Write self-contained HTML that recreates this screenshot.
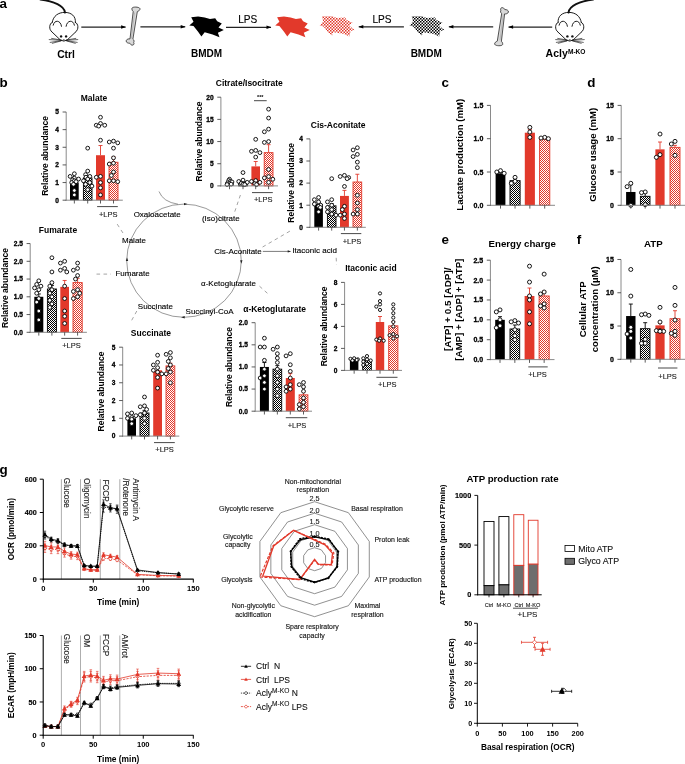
<!DOCTYPE html><html><head><meta charset="utf-8"><style>html,body{margin:0;padding:0;background:#fff;}svg{display:block;will-change:transform;}text{font-family:"Liberation Sans",sans-serif;}</style></head><body>
<svg width="685" height="764" viewBox="0 0 685 764">
<defs><pattern id="kc" width="2" height="2" patternUnits="userSpaceOnUse"><rect width="2" height="2" fill="#fff"/><rect width="1" height="1" fill="#000"/><rect x="1" y="1" width="1" height="1" fill="#000"/></pattern><pattern id="rc" width="2" height="2" patternUnits="userSpaceOnUse"><rect width="2" height="2" fill="#fff"/><rect width="1" height="1" fill="#e2392b"/><rect x="1" y="1" width="1" height="1" fill="#e2392b"/></pattern><pattern id="kc3" width="3" height="3" patternUnits="userSpaceOnUse"><rect width="3" height="3" fill="#fff"/><rect width="1.5" height="1.5" fill="#000"/><rect x="1.5" y="1.5" width="1.5" height="1.5" fill="#000"/></pattern><pattern id="rc3" width="3" height="3" patternUnits="userSpaceOnUse"><rect width="3" height="3" fill="#fff"/><rect width="1.5" height="1.5" fill="#e2392b"/><rect x="1.5" y="1.5" width="1.5" height="1.5" fill="#e2392b"/></pattern><marker id="ah" markerWidth="6" markerHeight="6" refX="5" refY="3" orient="auto" markerUnits="userSpaceOnUse"><path d="M0.5,1.2 L5.3,3 L0.5,4.8 z" fill="#000"/></marker></defs>
<rect width="685" height="764" fill="#fff"/>
<text x="-0.60" y="8.00" font-size="13.4" font-weight="bold" text-anchor="start" fill="#000">a</text>
<text x="-0.40" y="86.60" font-size="13.4" font-weight="bold" text-anchor="start" fill="#000">b</text>
<text x="441.60" y="86.70" font-size="13.4" font-weight="bold" text-anchor="start" fill="#000">c</text>
<text x="587.30" y="86.60" font-size="13.4" font-weight="bold" text-anchor="start" fill="#000">d</text>
<text x="441.40" y="243.60" font-size="13.4" font-weight="bold" text-anchor="start" fill="#000">e</text>
<text x="576.70" y="243.60" font-size="13.4" font-weight="bold" text-anchor="start" fill="#000">f</text>
<text x="-0.40" y="474.30" font-size="13.4" font-weight="bold" text-anchor="start" fill="#000">g</text>
<g transform="translate(63.80,0) scale(1,1)" fill="none" stroke="#111" stroke-width="0.95" stroke-linecap="round" stroke-linejoin="round">
<path d="M1.2,12.6 C0.5,6 -10,1.2 -23.5,-0.5" stroke-width="1.9"/>
<path d="M-11.6,22.4 C-10.5,15.8 -5.5,12.4 1.0,12.4 C7.5,12.4 12.2,16.2 11.6,22.4"/>
<path d="M-11.6,22.4 C-14.8,23.5 -15.0,29.6 -12.2,31.6"/>
<path d="M11.6,22.4 C14.8,23.5 15.0,29.6 12.2,31.6"/>
<path d="M-10.6,25.2 C-9.6,19.5 -3.2,19.8 -2.3,26.3"/>
<path d="M2.3,26.3 C3.2,19.8 9.6,19.5 10.6,25.2"/>
<path d="M-12.2,31.6 L-3.4,40.0 Q0,42.2 3.4,40.0 L12.2,31.6"/>
<circle cx="-2.7" cy="36.4" r="1.2" fill="#111" stroke="none"/>
<circle cx="2.3" cy="36.4" r="1.2" fill="#111" stroke="none"/>
<path d="M-1.1,39.4 L1.1,39.4 L0,40.8 z" fill="#111" stroke="none"/>
<path d="M-2.5,40.3 L-14.6,39.6 M-2.5,40.6 L-13.6,42.4 M-2.8,40.0 L-12.2,38.4 M-3,41 L-11.5,43.3" stroke-width="0.65"/>
<path d="M2.5,40.3 L14.0,39.6 M2.5,40.6 L13.4,42.4 M2.8,40.0 L12.0,38.4 M3,41 L11.5,43.3" stroke-width="0.65"/>
</g>
<g transform="translate(569.70,0) scale(-1,1)" fill="none" stroke="#111" stroke-width="0.95" stroke-linecap="round" stroke-linejoin="round">
<path d="M1.2,12.6 C0.5,6 -10,1.2 -23.5,-0.5" stroke-width="1.9"/>
<path d="M-11.6,22.4 C-10.5,15.8 -5.5,12.4 1.0,12.4 C7.5,12.4 12.2,16.2 11.6,22.4"/>
<path d="M-11.6,22.4 C-14.8,23.5 -15.0,29.6 -12.2,31.6"/>
<path d="M11.6,22.4 C14.8,23.5 15.0,29.6 12.2,31.6"/>
<path d="M-10.6,25.2 C-9.6,19.5 -3.2,19.8 -2.3,26.3"/>
<path d="M2.3,26.3 C3.2,19.8 9.6,19.5 10.6,25.2"/>
<path d="M-12.2,31.6 L-3.4,40.0 Q0,42.2 3.4,40.0 L12.2,31.6"/>
<circle cx="-2.7" cy="36.4" r="1.2" fill="#111" stroke="none"/>
<circle cx="2.3" cy="36.4" r="1.2" fill="#111" stroke="none"/>
<path d="M-1.1,39.4 L1.1,39.4 L0,40.8 z" fill="#111" stroke="none"/>
<path d="M-2.5,40.3 L-14.6,39.6 M-2.5,40.6 L-13.6,42.4 M-2.8,40.0 L-12.2,38.4 M-3,41 L-11.5,43.3" stroke-width="0.65"/>
<path d="M2.5,40.3 L14.0,39.6 M2.5,40.6 L13.4,42.4 M2.8,40.0 L12.0,38.4 M3,41 L11.5,43.3" stroke-width="0.65"/>
</g>
<text x="66.00" y="57.50" font-size="10.3" font-weight="bold" text-anchor="middle" fill="#000">Ctrl</text>
<text x="545.60" y="57.30" font-size="10.5" font-weight="bold" text-anchor="start" fill="#000">Acly</text>
<text x="567.90" y="53.90" font-size="6.6" font-weight="bold" text-anchor="start" fill="#000">M-KO</text>
<path transform="translate(0,0)" d="M132.0,8.2 C132.5,6.6 139.0,6.7 139.9,8.5 C140.4,10.2 138.6,10.9 137.3,11.7 L132.9,39.2 C134.2,40.0 134.3,41.6 133.7,42.6 C134.6,43.7 133.6,45.6 131.8,45.1 C130.6,44.9 130.3,43.7 129.8,43.2 C128.3,43.4 125.7,42.5 126.2,40.7 C126.7,39.1 128.6,38.7 130.0,38.9 L133.2,11.5 C132.2,10.6 131.7,9.4 132.0,8.2 Z" fill="#d9d9d9" stroke="#2a2a2a" stroke-width="0.8" stroke-linejoin="round"/>
<path transform="translate(0,0)" d="M134.6,12.5 L131.4,38.5" fill="none" stroke="#888" stroke-width="0.4"/>
<path transform="translate(368.6,0.8) rotate(180 133 26)" d="M132.0,8.2 C132.5,6.6 139.0,6.7 139.9,8.5 C140.4,10.2 138.6,10.9 137.3,11.7 L132.9,39.2 C134.2,40.0 134.3,41.6 133.7,42.6 C134.6,43.7 133.6,45.6 131.8,45.1 C130.6,44.9 130.3,43.7 129.8,43.2 C128.3,43.4 125.7,42.5 126.2,40.7 C126.7,39.1 128.6,38.7 130.0,38.9 L133.2,11.5 C132.2,10.6 131.7,9.4 132.0,8.2 Z" fill="#d9d9d9" stroke="#2a2a2a" stroke-width="0.8" stroke-linejoin="round"/>
<path transform="translate(368.6,0.8) rotate(180 133 26)" d="M134.6,12.5 L131.4,38.5" fill="none" stroke="#888" stroke-width="0.4"/>
<line x1="81.3" y1="27.0" x2="125.6" y2="27.0" stroke="#222" stroke-width="1.25" marker-end="url(#ah)"/>
<line x1="140.4" y1="26.8" x2="185.2" y2="26.8" stroke="#222" stroke-width="1.25" marker-end="url(#ah)"/>
<line x1="226.0" y1="27.3" x2="271.0" y2="27.3" stroke="#222" stroke-width="1.25" marker-end="url(#ah)"/>
<line x1="403.9" y1="26.8" x2="358.8" y2="26.8" stroke="#222" stroke-width="1.25" marker-end="url(#ah)"/>
<line x1="493.2" y1="26.8" x2="448.9" y2="26.8" stroke="#222" stroke-width="1.25" marker-end="url(#ah)"/>
<line x1="552.2" y1="27.0" x2="508.6" y2="27.0" stroke="#222" stroke-width="1.25" marker-end="url(#ah)"/>
<text x="247.80" y="23.10" font-size="10.1" text-anchor="middle" fill="#000" stroke="#000" stroke-width="0.12">LPS</text>
<text x="382.00" y="22.80" font-size="10.1" text-anchor="middle" fill="#000" stroke="#000" stroke-width="0.12">LPS</text>
<text x="206.50" y="57.20" font-size="10" font-weight="bold" text-anchor="middle" fill="#000">BMDM</text>
<text x="426.20" y="57.00" font-size="10" font-weight="bold" text-anchor="middle" fill="#000">BMDM</text>
<path d="M191.20,17.20 L198.10,16.40 L204.70,17.60 L210.00,18.90 L215.20,18.20 L217.20,21.20 L221.80,23.50 L218.50,27.40 L223.80,30.00 L217.90,32.70 L219.50,37.30 L212.60,34.60 L204.70,32.30 L201.40,36.60 L198.10,31.70 L193.50,26.10 L189.30,25.40 L193.50,21.80 z" fill="#000" stroke="none"/>
<path d="M277.10,17.20 L284.00,16.40 L290.60,17.60 L295.90,18.90 L301.10,18.20 L303.10,21.20 L307.70,23.50 L304.40,27.40 L309.70,30.00 L303.80,32.70 L305.40,37.30 L298.50,34.60 L290.60,32.30 L287.30,36.60 L284.00,31.70 L279.40,26.10 L275.20,25.40 L279.40,21.80 z" fill="#e2392b" stroke="none"/>
<path d="M321.90,16.20 L332.10,16.20 L336.70,17.90 L345.20,17.60 L346.50,19.90 L352.80,22.80 L349.20,25.80 L354.70,30.00 L350.50,31.00 L349.50,36.60 L343.30,33.70 L333.40,32.30 L332.10,35.60 L328.10,32.30 L323.50,26.40 L319.60,25.40 L323.20,21.20 z" fill="url(#rc3)" stroke="none"/>
<path d="M411.70,16.20 L421.90,16.20 L426.50,17.90 L435.00,17.60 L436.30,19.90 L442.60,22.80 L439.00,25.80 L444.50,30.00 L440.30,31.00 L439.30,36.60 L433.10,33.70 L423.20,32.30 L421.90,35.60 L417.90,32.30 L413.30,26.40 L409.40,25.40 L413.00,21.20 z" fill="url(#kc3)" stroke="none"/>
<rect x="70.00" y="182.56" width="8.70" height="17.64" fill="#000"/>
<line x1="74.35" y1="182.56" x2="74.35" y2="181.15" stroke="#000" stroke-width="0.9"/>
<line x1="72.35" y1="181.15" x2="76.35" y2="181.15" stroke="#000" stroke-width="0.9"/>
<rect x="83.40" y="177.97" width="8.60" height="22.23" fill="url(#kc)" stroke="#000" stroke-width="0.9"/>
<line x1="87.70" y1="177.97" x2="87.70" y2="175.86" stroke="#000" stroke-width="0.9"/>
<line x1="85.70" y1="175.86" x2="89.70" y2="175.86" stroke="#000" stroke-width="0.9"/>
<rect x="96.00" y="155.22" width="9.00" height="44.98" fill="#e2392b"/>
<line x1="100.50" y1="155.22" x2="100.50" y2="145.52" stroke="#e2392b" stroke-width="0.9"/>
<line x1="98.50" y1="145.52" x2="102.50" y2="145.52" stroke="#e2392b" stroke-width="0.9"/>
<rect x="109.00" y="162.27" width="9.00" height="37.93" fill="url(#rc)" stroke="#e2392b" stroke-width="0.9"/>
<line x1="113.50" y1="162.27" x2="113.50" y2="156.98" stroke="#e2392b" stroke-width="0.9"/>
<line x1="111.50" y1="156.98" x2="115.50" y2="156.98" stroke="#e2392b" stroke-width="0.9"/>
<circle cx="74.35" cy="173.74" r="1.9" fill="#fff" stroke="#000" stroke-width="0.9"/>
<circle cx="70.12" cy="176.39" r="1.9" fill="#fff" stroke="#000" stroke-width="0.9"/>
<circle cx="74.35" cy="178.15" r="1.9" fill="#fff" stroke="#000" stroke-width="0.9"/>
<circle cx="78.58" cy="179.03" r="1.9" fill="#fff" stroke="#000" stroke-width="0.9"/>
<circle cx="72.61" cy="179.91" r="1.9" fill="#fff" stroke="#000" stroke-width="0.9"/>
<circle cx="74.35" cy="180.80" r="1.9" fill="#fff" stroke="#000" stroke-width="0.9"/>
<circle cx="76.09" cy="181.68" r="1.9" fill="#fff" stroke="#000" stroke-width="0.9"/>
<circle cx="71.74" cy="182.56" r="1.9" fill="#fff" stroke="#000" stroke-width="0.9"/>
<circle cx="73.48" cy="184.32" r="1.9" fill="#fff" stroke="#000" stroke-width="0.9"/>
<circle cx="74.35" cy="190.50" r="1.9" fill="#fff" stroke="#000" stroke-width="0.9"/>
<circle cx="74.35" cy="194.91" r="1.9" fill="#fff" stroke="#000" stroke-width="0.9"/>
<circle cx="87.70" cy="148.16" r="1.9" fill="#fff" stroke="#000" stroke-width="0.9"/>
<circle cx="87.70" cy="171.09" r="1.9" fill="#fff" stroke="#000" stroke-width="0.9"/>
<circle cx="85.59" cy="174.62" r="1.9" fill="#fff" stroke="#000" stroke-width="0.9"/>
<circle cx="89.81" cy="176.39" r="1.9" fill="#fff" stroke="#000" stroke-width="0.9"/>
<circle cx="85.98" cy="177.27" r="1.9" fill="#fff" stroke="#000" stroke-width="0.9"/>
<circle cx="87.70" cy="179.03" r="1.9" fill="#fff" stroke="#000" stroke-width="0.9"/>
<circle cx="83.47" cy="180.80" r="1.9" fill="#fff" stroke="#000" stroke-width="0.9"/>
<circle cx="89.81" cy="182.56" r="1.9" fill="#fff" stroke="#000" stroke-width="0.9"/>
<circle cx="85.59" cy="184.32" r="1.9" fill="#fff" stroke="#000" stroke-width="0.9"/>
<circle cx="91.93" cy="186.09" r="1.9" fill="#fff" stroke="#000" stroke-width="0.9"/>
<circle cx="87.70" cy="189.62" r="1.9" fill="#fff" stroke="#000" stroke-width="0.9"/>
<circle cx="100.50" cy="117.29" r="1.9" fill="#fff" stroke="#000" stroke-width="0.9"/>
<circle cx="100.50" cy="123.47" r="1.9" fill="#fff" stroke="#000" stroke-width="0.9"/>
<circle cx="96.27" cy="125.23" r="1.9" fill="#fff" stroke="#000" stroke-width="0.9"/>
<circle cx="104.73" cy="125.23" r="1.9" fill="#fff" stroke="#000" stroke-width="0.9"/>
<circle cx="98.70" cy="126.11" r="1.9" fill="#fff" stroke="#000" stroke-width="0.9"/>
<circle cx="100.50" cy="140.22" r="1.9" fill="#fff" stroke="#000" stroke-width="0.9"/>
<circle cx="100.50" cy="176.39" r="1.9" fill="#fff" stroke="#000" stroke-width="0.9"/>
<circle cx="96.27" cy="177.27" r="1.9" fill="#fff" stroke="#000" stroke-width="0.9"/>
<circle cx="100.50" cy="182.56" r="1.9" fill="#fff" stroke="#000" stroke-width="0.9"/>
<circle cx="100.50" cy="187.85" r="1.9" fill="#fff" stroke="#000" stroke-width="0.9"/>
<circle cx="100.50" cy="194.91" r="1.9" fill="#fff" stroke="#000" stroke-width="0.9"/>
<circle cx="113.50" cy="141.11" r="1.9" fill="#fff" stroke="#000" stroke-width="0.9"/>
<circle cx="109.27" cy="141.99" r="1.9" fill="#fff" stroke="#000" stroke-width="0.9"/>
<circle cx="117.73" cy="142.87" r="1.9" fill="#fff" stroke="#000" stroke-width="0.9"/>
<circle cx="113.50" cy="148.16" r="1.9" fill="#fff" stroke="#000" stroke-width="0.9"/>
<circle cx="113.50" cy="157.86" r="1.9" fill="#fff" stroke="#000" stroke-width="0.9"/>
<circle cx="113.50" cy="163.16" r="1.9" fill="#fff" stroke="#000" stroke-width="0.9"/>
<circle cx="109.27" cy="164.04" r="1.9" fill="#fff" stroke="#000" stroke-width="0.9"/>
<circle cx="113.50" cy="171.98" r="1.9" fill="#fff" stroke="#000" stroke-width="0.9"/>
<circle cx="111.39" cy="175.50" r="1.9" fill="#fff" stroke="#000" stroke-width="0.9"/>
<circle cx="113.50" cy="180.80" r="1.9" fill="#fff" stroke="#000" stroke-width="0.9"/>
<circle cx="109.27" cy="180.80" r="1.9" fill="#fff" stroke="#000" stroke-width="0.9"/>
<circle cx="117.73" cy="181.68" r="1.9" fill="#fff" stroke="#000" stroke-width="0.9"/>
<line x1="66.20" y1="112.00" x2="66.20" y2="200.70" stroke="#8a8a8a" stroke-width="1.0"/>
<line x1="65.70" y1="200.20" x2="122.80" y2="200.20" stroke="#8a8a8a" stroke-width="1.0"/>
<line x1="62.60" y1="200.20" x2="66.20" y2="200.20" stroke="#333" stroke-width="0.8"/>
<text x="59.00" y="202.58" font-size="6.6" font-weight="bold" text-anchor="end" fill="#000" stroke="#000" stroke-width="0.3">0</text>
<line x1="62.60" y1="182.56" x2="66.20" y2="182.56" stroke="#333" stroke-width="0.8"/>
<text x="59.00" y="184.94" font-size="6.6" font-weight="bold" text-anchor="end" fill="#000" stroke="#000" stroke-width="0.3">1</text>
<line x1="62.60" y1="164.92" x2="66.20" y2="164.92" stroke="#333" stroke-width="0.8"/>
<text x="59.00" y="167.30" font-size="6.6" font-weight="bold" text-anchor="end" fill="#000" stroke="#000" stroke-width="0.3">2</text>
<line x1="62.60" y1="147.28" x2="66.20" y2="147.28" stroke="#333" stroke-width="0.8"/>
<text x="59.00" y="149.66" font-size="6.6" font-weight="bold" text-anchor="end" fill="#000" stroke="#000" stroke-width="0.3">3</text>
<line x1="62.60" y1="129.64" x2="66.20" y2="129.64" stroke="#333" stroke-width="0.8"/>
<text x="59.00" y="132.02" font-size="6.6" font-weight="bold" text-anchor="end" fill="#000" stroke="#000" stroke-width="0.3">4</text>
<line x1="62.60" y1="112.00" x2="66.20" y2="112.00" stroke="#333" stroke-width="0.8"/>
<text x="59.00" y="114.38" font-size="6.6" font-weight="bold" text-anchor="end" fill="#000" stroke="#000" stroke-width="0.3">5</text>
<line x1="74.35" y1="200.20" x2="74.35" y2="203.50" stroke="#333" stroke-width="0.8"/>
<line x1="87.70" y1="200.20" x2="87.70" y2="203.50" stroke="#333" stroke-width="0.8"/>
<line x1="100.50" y1="200.20" x2="100.50" y2="203.50" stroke="#333" stroke-width="0.8"/>
<line x1="113.50" y1="200.20" x2="113.50" y2="203.50" stroke="#333" stroke-width="0.8"/>
<text x="94.00" y="101.06" font-size="8.5" font-weight="bold" text-anchor="middle" fill="#000">Malate</text>
<text x="48.06" y="155.90" font-size="8.5" font-weight="bold" text-anchor="middle" fill="#000" transform="rotate(-90 48.06 155.90)">Relative abundance</text>
<line x1="97.10" y1="206.60" x2="117.80" y2="206.60" stroke="#333" stroke-width="0.9"/>
<text x="108.20" y="216.80" font-size="7.5" text-anchor="middle" fill="#222" stroke="#222" stroke-width="0.12">+LPS</text>
<rect x="34.30" y="296.80" width="9.00" height="35.50" fill="#000"/>
<line x1="38.80" y1="296.80" x2="38.80" y2="293.96" stroke="#000" stroke-width="0.9"/>
<line x1="36.80" y1="293.96" x2="40.80" y2="293.96" stroke="#000" stroke-width="0.9"/>
<rect x="47.40" y="288.99" width="9.00" height="43.31" fill="url(#kc)" stroke="#000" stroke-width="0.9"/>
<line x1="51.90" y1="288.99" x2="51.90" y2="285.44" stroke="#000" stroke-width="0.9"/>
<line x1="49.90" y1="285.44" x2="53.90" y2="285.44" stroke="#000" stroke-width="0.9"/>
<rect x="60.30" y="286.86" width="8.70" height="45.44" fill="#e2392b"/>
<line x1="64.65" y1="286.86" x2="64.65" y2="280.47" stroke="#e2392b" stroke-width="0.9"/>
<line x1="62.65" y1="280.47" x2="66.65" y2="280.47" stroke="#e2392b" stroke-width="0.9"/>
<rect x="73.00" y="282.60" width="9.20" height="49.70" fill="url(#rc)" stroke="#e2392b" stroke-width="0.9"/>
<line x1="77.60" y1="282.60" x2="77.60" y2="278.34" stroke="#e2392b" stroke-width="0.9"/>
<line x1="75.60" y1="278.34" x2="79.60" y2="278.34" stroke="#e2392b" stroke-width="0.9"/>
<circle cx="38.80" cy="280.82" r="1.9" fill="#fff" stroke="#000" stroke-width="0.9"/>
<circle cx="36.68" cy="284.38" r="1.9" fill="#fff" stroke="#000" stroke-width="0.9"/>
<circle cx="40.91" cy="286.15" r="1.9" fill="#fff" stroke="#000" stroke-width="0.9"/>
<circle cx="34.57" cy="287.93" r="1.9" fill="#fff" stroke="#000" stroke-width="0.9"/>
<circle cx="38.80" cy="289.70" r="1.9" fill="#fff" stroke="#000" stroke-width="0.9"/>
<circle cx="36.68" cy="293.25" r="1.9" fill="#fff" stroke="#000" stroke-width="0.9"/>
<circle cx="38.80" cy="298.57" r="1.9" fill="#fff" stroke="#000" stroke-width="0.9"/>
<circle cx="36.68" cy="302.12" r="1.9" fill="#fff" stroke="#000" stroke-width="0.9"/>
<circle cx="38.80" cy="311.00" r="1.9" fill="#fff" stroke="#000" stroke-width="0.9"/>
<circle cx="38.80" cy="319.88" r="1.9" fill="#fff" stroke="#000" stroke-width="0.9"/>
<circle cx="51.90" cy="257.75" r="1.9" fill="#fff" stroke="#000" stroke-width="0.9"/>
<circle cx="51.90" cy="271.95" r="1.9" fill="#fff" stroke="#000" stroke-width="0.9"/>
<circle cx="51.90" cy="282.60" r="1.9" fill="#fff" stroke="#000" stroke-width="0.9"/>
<circle cx="49.78" cy="286.15" r="1.9" fill="#fff" stroke="#000" stroke-width="0.9"/>
<circle cx="51.90" cy="289.70" r="1.9" fill="#fff" stroke="#000" stroke-width="0.9"/>
<circle cx="49.78" cy="293.25" r="1.9" fill="#fff" stroke="#000" stroke-width="0.9"/>
<circle cx="51.90" cy="296.80" r="1.9" fill="#fff" stroke="#000" stroke-width="0.9"/>
<circle cx="49.78" cy="300.35" r="1.9" fill="#fff" stroke="#000" stroke-width="0.9"/>
<circle cx="51.90" cy="303.90" r="1.9" fill="#fff" stroke="#000" stroke-width="0.9"/>
<circle cx="49.78" cy="307.45" r="1.9" fill="#fff" stroke="#000" stroke-width="0.9"/>
<circle cx="64.65" cy="261.30" r="1.9" fill="#fff" stroke="#000" stroke-width="0.9"/>
<circle cx="60.42" cy="263.08" r="1.9" fill="#fff" stroke="#000" stroke-width="0.9"/>
<circle cx="64.65" cy="268.40" r="1.9" fill="#fff" stroke="#000" stroke-width="0.9"/>
<circle cx="60.42" cy="270.18" r="1.9" fill="#fff" stroke="#000" stroke-width="0.9"/>
<circle cx="66.77" cy="271.95" r="1.9" fill="#fff" stroke="#000" stroke-width="0.9"/>
<circle cx="64.65" cy="286.15" r="1.9" fill="#fff" stroke="#000" stroke-width="0.9"/>
<circle cx="64.65" cy="298.57" r="1.9" fill="#fff" stroke="#000" stroke-width="0.9"/>
<circle cx="64.65" cy="311.00" r="1.9" fill="#fff" stroke="#000" stroke-width="0.9"/>
<circle cx="64.65" cy="316.32" r="1.9" fill="#fff" stroke="#000" stroke-width="0.9"/>
<circle cx="64.65" cy="323.43" r="1.9" fill="#fff" stroke="#000" stroke-width="0.9"/>
<circle cx="77.60" cy="263.08" r="1.9" fill="#fff" stroke="#000" stroke-width="0.9"/>
<circle cx="77.60" cy="268.40" r="1.9" fill="#fff" stroke="#000" stroke-width="0.9"/>
<circle cx="73.37" cy="270.18" r="1.9" fill="#fff" stroke="#000" stroke-width="0.9"/>
<circle cx="77.60" cy="275.50" r="1.9" fill="#fff" stroke="#000" stroke-width="0.9"/>
<circle cx="75.48" cy="279.05" r="1.9" fill="#fff" stroke="#000" stroke-width="0.9"/>
<circle cx="77.60" cy="289.70" r="1.9" fill="#fff" stroke="#000" stroke-width="0.9"/>
<circle cx="73.37" cy="291.48" r="1.9" fill="#fff" stroke="#000" stroke-width="0.9"/>
<circle cx="79.71" cy="293.25" r="1.9" fill="#fff" stroke="#000" stroke-width="0.9"/>
<circle cx="77.60" cy="296.80" r="1.9" fill="#fff" stroke="#000" stroke-width="0.9"/>
<circle cx="73.37" cy="298.57" r="1.9" fill="#fff" stroke="#000" stroke-width="0.9"/>
<line x1="30.20" y1="243.55" x2="30.20" y2="332.80" stroke="#8a8a8a" stroke-width="1.0"/>
<line x1="29.70" y1="332.30" x2="86.90" y2="332.30" stroke="#8a8a8a" stroke-width="1.0"/>
<line x1="26.60" y1="332.30" x2="30.20" y2="332.30" stroke="#333" stroke-width="0.8"/>
<text x="23.00" y="334.68" font-size="6.6" font-weight="bold" text-anchor="end" fill="#000" stroke="#000" stroke-width="0.3">0.0</text>
<line x1="26.60" y1="314.55" x2="30.20" y2="314.55" stroke="#333" stroke-width="0.8"/>
<text x="23.00" y="316.93" font-size="6.6" font-weight="bold" text-anchor="end" fill="#000" stroke="#000" stroke-width="0.3">0.5</text>
<line x1="26.60" y1="296.80" x2="30.20" y2="296.80" stroke="#333" stroke-width="0.8"/>
<text x="23.00" y="299.18" font-size="6.6" font-weight="bold" text-anchor="end" fill="#000" stroke="#000" stroke-width="0.3">1.0</text>
<line x1="26.60" y1="279.05" x2="30.20" y2="279.05" stroke="#333" stroke-width="0.8"/>
<text x="23.00" y="281.43" font-size="6.6" font-weight="bold" text-anchor="end" fill="#000" stroke="#000" stroke-width="0.3">1.5</text>
<line x1="26.60" y1="261.30" x2="30.20" y2="261.30" stroke="#333" stroke-width="0.8"/>
<text x="23.00" y="263.68" font-size="6.6" font-weight="bold" text-anchor="end" fill="#000" stroke="#000" stroke-width="0.3">2.0</text>
<line x1="26.60" y1="243.55" x2="30.20" y2="243.55" stroke="#333" stroke-width="0.8"/>
<text x="23.00" y="245.93" font-size="6.6" font-weight="bold" text-anchor="end" fill="#000" stroke="#000" stroke-width="0.3">2.5</text>
<line x1="38.80" y1="332.30" x2="38.80" y2="335.60" stroke="#333" stroke-width="0.8"/>
<line x1="51.90" y1="332.30" x2="51.90" y2="335.60" stroke="#333" stroke-width="0.8"/>
<line x1="64.65" y1="332.30" x2="64.65" y2="335.60" stroke="#333" stroke-width="0.8"/>
<line x1="77.60" y1="332.30" x2="77.60" y2="335.60" stroke="#333" stroke-width="0.8"/>
<text x="58.00" y="233.06" font-size="8.5" font-weight="bold" text-anchor="middle" fill="#000">Fumarate</text>
<text x="7.66" y="288.00" font-size="8.5" font-weight="bold" text-anchor="middle" fill="#000" transform="rotate(-90 7.66 288.00)">Relative abundance</text>
<line x1="61.30" y1="338.40" x2="81.70" y2="338.40" stroke="#333" stroke-width="0.9"/>
<text x="71.50" y="348.30" font-size="7.5" text-anchor="middle" fill="#222" stroke="#222" stroke-width="0.12">+LPS</text>
<rect x="225.40" y="182.35" width="8.20" height="3.55" fill="#000"/>
<line x1="229.50" y1="182.35" x2="229.50" y2="181.69" stroke="#000" stroke-width="0.9"/>
<line x1="227.50" y1="181.69" x2="231.50" y2="181.69" stroke="#000" stroke-width="0.9"/>
<rect x="238.70" y="181.91" width="8.60" height="3.99" fill="url(#kc)" stroke="#000" stroke-width="0.9"/>
<line x1="243.00" y1="181.91" x2="243.00" y2="180.58" stroke="#000" stroke-width="0.9"/>
<line x1="241.00" y1="180.58" x2="245.00" y2="180.58" stroke="#000" stroke-width="0.9"/>
<rect x="251.40" y="166.39" width="8.60" height="19.51" fill="#e2392b"/>
<line x1="255.70" y1="166.39" x2="255.70" y2="161.51" stroke="#e2392b" stroke-width="0.9"/>
<line x1="253.70" y1="161.51" x2="257.70" y2="161.51" stroke="#e2392b" stroke-width="0.9"/>
<rect x="264.20" y="152.64" width="8.80" height="33.26" fill="url(#rc)" stroke="#e2392b" stroke-width="0.9"/>
<line x1="268.60" y1="152.64" x2="268.60" y2="144.65" stroke="#e2392b" stroke-width="0.9"/>
<line x1="266.60" y1="144.65" x2="270.60" y2="144.65" stroke="#e2392b" stroke-width="0.9"/>
<circle cx="229.50" cy="179.25" r="1.9" fill="#fff" stroke="#000" stroke-width="0.9"/>
<circle cx="228.68" cy="180.58" r="1.9" fill="#fff" stroke="#000" stroke-width="0.9"/>
<circle cx="230.32" cy="181.47" r="1.9" fill="#fff" stroke="#000" stroke-width="0.9"/>
<circle cx="231.96" cy="181.91" r="1.9" fill="#fff" stroke="#000" stroke-width="0.9"/>
<circle cx="227.86" cy="182.80" r="1.9" fill="#fff" stroke="#000" stroke-width="0.9"/>
<circle cx="229.50" cy="183.68" r="1.9" fill="#fff" stroke="#000" stroke-width="0.9"/>
<circle cx="231.14" cy="184.13" r="1.9" fill="#fff" stroke="#000" stroke-width="0.9"/>
<circle cx="227.04" cy="184.57" r="1.9" fill="#fff" stroke="#000" stroke-width="0.9"/>
<circle cx="243.00" cy="172.59" r="1.9" fill="#fff" stroke="#000" stroke-width="0.9"/>
<circle cx="243.00" cy="180.13" r="1.9" fill="#fff" stroke="#000" stroke-width="0.9"/>
<circle cx="238.77" cy="181.47" r="1.9" fill="#fff" stroke="#000" stroke-width="0.9"/>
<circle cx="247.23" cy="182.35" r="1.9" fill="#fff" stroke="#000" stroke-width="0.9"/>
<circle cx="241.28" cy="183.24" r="1.9" fill="#fff" stroke="#000" stroke-width="0.9"/>
<circle cx="243.00" cy="184.13" r="1.9" fill="#fff" stroke="#000" stroke-width="0.9"/>
<circle cx="244.72" cy="184.57" r="1.9" fill="#fff" stroke="#000" stroke-width="0.9"/>
<circle cx="255.70" cy="139.33" r="1.9" fill="#fff" stroke="#000" stroke-width="0.9"/>
<circle cx="255.70" cy="150.42" r="1.9" fill="#fff" stroke="#000" stroke-width="0.9"/>
<circle cx="251.47" cy="151.31" r="1.9" fill="#fff" stroke="#000" stroke-width="0.9"/>
<circle cx="259.93" cy="152.64" r="1.9" fill="#fff" stroke="#000" stroke-width="0.9"/>
<circle cx="255.70" cy="157.07" r="1.9" fill="#fff" stroke="#000" stroke-width="0.9"/>
<circle cx="255.70" cy="180.58" r="1.9" fill="#fff" stroke="#000" stroke-width="0.9"/>
<circle cx="251.47" cy="181.47" r="1.9" fill="#fff" stroke="#000" stroke-width="0.9"/>
<circle cx="259.93" cy="182.35" r="1.9" fill="#fff" stroke="#000" stroke-width="0.9"/>
<circle cx="254.84" cy="183.68" r="1.9" fill="#fff" stroke="#000" stroke-width="0.9"/>
<circle cx="256.56" cy="184.57" r="1.9" fill="#fff" stroke="#000" stroke-width="0.9"/>
<circle cx="268.60" cy="109.17" r="1.9" fill="#fff" stroke="#000" stroke-width="0.9"/>
<circle cx="268.60" cy="118.04" r="1.9" fill="#fff" stroke="#000" stroke-width="0.9"/>
<circle cx="268.60" cy="129.13" r="1.9" fill="#fff" stroke="#000" stroke-width="0.9"/>
<circle cx="264.37" cy="131.79" r="1.9" fill="#fff" stroke="#000" stroke-width="0.9"/>
<circle cx="268.60" cy="141.55" r="1.9" fill="#fff" stroke="#000" stroke-width="0.9"/>
<circle cx="264.37" cy="142.44" r="1.9" fill="#fff" stroke="#000" stroke-width="0.9"/>
<circle cx="268.60" cy="169.49" r="1.9" fill="#fff" stroke="#000" stroke-width="0.9"/>
<circle cx="268.60" cy="176.59" r="1.9" fill="#fff" stroke="#000" stroke-width="0.9"/>
<circle cx="264.37" cy="177.92" r="1.9" fill="#fff" stroke="#000" stroke-width="0.9"/>
<circle cx="272.83" cy="179.25" r="1.9" fill="#fff" stroke="#000" stroke-width="0.9"/>
<circle cx="268.60" cy="182.35" r="1.9" fill="#fff" stroke="#000" stroke-width="0.9"/>
<line x1="220.90" y1="97.20" x2="220.90" y2="186.40" stroke="#8a8a8a" stroke-width="1.0"/>
<line x1="220.40" y1="185.90" x2="278.00" y2="185.90" stroke="#8a8a8a" stroke-width="1.0"/>
<line x1="217.30" y1="185.90" x2="220.90" y2="185.90" stroke="#333" stroke-width="0.8"/>
<text x="213.70" y="188.28" font-size="6.6" font-weight="bold" text-anchor="end" fill="#000" stroke="#000" stroke-width="0.3">0</text>
<line x1="217.30" y1="163.73" x2="220.90" y2="163.73" stroke="#333" stroke-width="0.8"/>
<text x="213.70" y="166.10" font-size="6.6" font-weight="bold" text-anchor="end" fill="#000" stroke="#000" stroke-width="0.3">5</text>
<line x1="217.30" y1="141.55" x2="220.90" y2="141.55" stroke="#333" stroke-width="0.8"/>
<text x="213.70" y="143.93" font-size="6.6" font-weight="bold" text-anchor="end" fill="#000" stroke="#000" stroke-width="0.3">10</text>
<line x1="217.30" y1="119.38" x2="220.90" y2="119.38" stroke="#333" stroke-width="0.8"/>
<text x="213.70" y="121.75" font-size="6.6" font-weight="bold" text-anchor="end" fill="#000" stroke="#000" stroke-width="0.3">15</text>
<line x1="217.30" y1="97.20" x2="220.90" y2="97.20" stroke="#333" stroke-width="0.8"/>
<text x="213.70" y="99.58" font-size="6.6" font-weight="bold" text-anchor="end" fill="#000" stroke="#000" stroke-width="0.3">20</text>
<line x1="229.50" y1="185.90" x2="229.50" y2="189.20" stroke="#333" stroke-width="0.8"/>
<line x1="243.00" y1="185.90" x2="243.00" y2="189.20" stroke="#333" stroke-width="0.8"/>
<line x1="255.70" y1="185.90" x2="255.70" y2="189.20" stroke="#333" stroke-width="0.8"/>
<line x1="268.60" y1="185.90" x2="268.60" y2="189.20" stroke="#333" stroke-width="0.8"/>
<text x="249.30" y="86.36" font-size="8.5" font-weight="bold" text-anchor="middle" fill="#000">Citrate/Isocitrate</text>
<text x="201.86" y="141.50" font-size="8.5" font-weight="bold" text-anchor="middle" fill="#000" transform="rotate(-90 201.86 141.50)">Relative abundance</text>
<line x1="252.00" y1="192.60" x2="272.80" y2="192.60" stroke="#333" stroke-width="0.9"/>
<text x="263.20" y="202.10" font-size="7.5" text-anchor="middle" fill="#222" stroke="#222" stroke-width="0.12">+LPS</text>
<line x1="254.00" y1="100.70" x2="266.70" y2="100.70" stroke="#333" stroke-width="0.9"/>
<text x="260.30" y="99.20" font-size="5.5" font-weight="bold" text-anchor="middle" fill="#000">***</text>
<rect x="314.30" y="204.09" width="8.60" height="23.21" fill="#000"/>
<line x1="318.60" y1="204.09" x2="318.60" y2="202.33" stroke="#000" stroke-width="0.9"/>
<line x1="316.60" y1="202.33" x2="320.60" y2="202.33" stroke="#000" stroke-width="0.9"/>
<rect x="327.40" y="205.86" width="8.60" height="21.44" fill="url(#kc)" stroke="#000" stroke-width="0.9"/>
<line x1="331.70" y1="205.86" x2="331.70" y2="203.65" stroke="#000" stroke-width="0.9"/>
<line x1="329.70" y1="203.65" x2="333.70" y2="203.65" stroke="#000" stroke-width="0.9"/>
<rect x="340.00" y="195.92" width="8.90" height="31.38" fill="#e2392b"/>
<line x1="344.45" y1="195.92" x2="344.45" y2="190.39" stroke="#e2392b" stroke-width="0.9"/>
<line x1="342.45" y1="190.39" x2="346.45" y2="190.39" stroke="#e2392b" stroke-width="0.9"/>
<rect x="353.00" y="182.00" width="8.70" height="45.31" fill="url(#rc)" stroke="#e2392b" stroke-width="0.9"/>
<line x1="357.35" y1="182.00" x2="357.35" y2="174.26" stroke="#e2392b" stroke-width="0.9"/>
<line x1="355.35" y1="174.26" x2="359.35" y2="174.26" stroke="#e2392b" stroke-width="0.9"/>
<circle cx="318.60" cy="197.47" r="1.9" fill="#fff" stroke="#000" stroke-width="0.9"/>
<circle cx="314.37" cy="199.68" r="1.9" fill="#fff" stroke="#000" stroke-width="0.9"/>
<circle cx="318.60" cy="201.89" r="1.9" fill="#fff" stroke="#000" stroke-width="0.9"/>
<circle cx="314.37" cy="204.09" r="1.9" fill="#fff" stroke="#000" stroke-width="0.9"/>
<circle cx="320.72" cy="205.20" r="1.9" fill="#fff" stroke="#000" stroke-width="0.9"/>
<circle cx="318.60" cy="206.31" r="1.9" fill="#fff" stroke="#000" stroke-width="0.9"/>
<circle cx="320.32" cy="207.41" r="1.9" fill="#fff" stroke="#000" stroke-width="0.9"/>
<circle cx="318.60" cy="211.83" r="1.9" fill="#fff" stroke="#000" stroke-width="0.9"/>
<circle cx="331.70" cy="178.68" r="1.9" fill="#fff" stroke="#000" stroke-width="0.9"/>
<circle cx="331.70" cy="199.68" r="1.9" fill="#fff" stroke="#000" stroke-width="0.9"/>
<circle cx="327.47" cy="201.89" r="1.9" fill="#fff" stroke="#000" stroke-width="0.9"/>
<circle cx="331.70" cy="205.20" r="1.9" fill="#fff" stroke="#000" stroke-width="0.9"/>
<circle cx="327.47" cy="207.41" r="1.9" fill="#fff" stroke="#000" stroke-width="0.9"/>
<circle cx="331.70" cy="209.62" r="1.9" fill="#fff" stroke="#000" stroke-width="0.9"/>
<circle cx="327.47" cy="211.83" r="1.9" fill="#fff" stroke="#000" stroke-width="0.9"/>
<circle cx="331.70" cy="214.04" r="1.9" fill="#fff" stroke="#000" stroke-width="0.9"/>
<circle cx="335.93" cy="215.15" r="1.9" fill="#fff" stroke="#000" stroke-width="0.9"/>
<circle cx="344.45" cy="175.37" r="1.9" fill="#fff" stroke="#000" stroke-width="0.9"/>
<circle cx="340.22" cy="176.47" r="1.9" fill="#fff" stroke="#000" stroke-width="0.9"/>
<circle cx="348.68" cy="177.58" r="1.9" fill="#fff" stroke="#000" stroke-width="0.9"/>
<circle cx="347.12" cy="178.68" r="1.9" fill="#fff" stroke="#000" stroke-width="0.9"/>
<circle cx="344.45" cy="186.42" r="1.9" fill="#fff" stroke="#000" stroke-width="0.9"/>
<circle cx="344.45" cy="206.31" r="1.9" fill="#fff" stroke="#000" stroke-width="0.9"/>
<circle cx="342.33" cy="209.62" r="1.9" fill="#fff" stroke="#000" stroke-width="0.9"/>
<circle cx="344.45" cy="214.04" r="1.9" fill="#fff" stroke="#000" stroke-width="0.9"/>
<circle cx="340.22" cy="215.15" r="1.9" fill="#fff" stroke="#000" stroke-width="0.9"/>
<circle cx="344.45" cy="218.46" r="1.9" fill="#fff" stroke="#000" stroke-width="0.9"/>
<circle cx="357.35" cy="147.74" r="1.9" fill="#fff" stroke="#000" stroke-width="0.9"/>
<circle cx="353.12" cy="149.95" r="1.9" fill="#fff" stroke="#000" stroke-width="0.9"/>
<circle cx="357.35" cy="154.37" r="1.9" fill="#fff" stroke="#000" stroke-width="0.9"/>
<circle cx="353.12" cy="156.58" r="1.9" fill="#fff" stroke="#000" stroke-width="0.9"/>
<circle cx="357.35" cy="162.11" r="1.9" fill="#fff" stroke="#000" stroke-width="0.9"/>
<circle cx="357.35" cy="167.63" r="1.9" fill="#fff" stroke="#000" stroke-width="0.9"/>
<circle cx="357.35" cy="195.25" r="1.9" fill="#fff" stroke="#000" stroke-width="0.9"/>
<circle cx="357.35" cy="202.99" r="1.9" fill="#fff" stroke="#000" stroke-width="0.9"/>
<circle cx="357.35" cy="209.62" r="1.9" fill="#fff" stroke="#000" stroke-width="0.9"/>
<circle cx="357.35" cy="214.04" r="1.9" fill="#fff" stroke="#000" stroke-width="0.9"/>
<circle cx="353.12" cy="214.04" r="1.9" fill="#fff" stroke="#000" stroke-width="0.9"/>
<line x1="310.00" y1="138.90" x2="310.00" y2="227.80" stroke="#8a8a8a" stroke-width="1.0"/>
<line x1="309.50" y1="227.30" x2="365.80" y2="227.30" stroke="#8a8a8a" stroke-width="1.0"/>
<line x1="306.40" y1="227.30" x2="310.00" y2="227.30" stroke="#333" stroke-width="0.8"/>
<text x="302.80" y="229.68" font-size="6.6" font-weight="bold" text-anchor="end" fill="#000" stroke="#000" stroke-width="0.3">0</text>
<line x1="306.40" y1="205.20" x2="310.00" y2="205.20" stroke="#333" stroke-width="0.8"/>
<text x="302.80" y="207.58" font-size="6.6" font-weight="bold" text-anchor="end" fill="#000" stroke="#000" stroke-width="0.3">1</text>
<line x1="306.40" y1="183.10" x2="310.00" y2="183.10" stroke="#333" stroke-width="0.8"/>
<text x="302.80" y="185.48" font-size="6.6" font-weight="bold" text-anchor="end" fill="#000" stroke="#000" stroke-width="0.3">2</text>
<line x1="306.40" y1="161.00" x2="310.00" y2="161.00" stroke="#333" stroke-width="0.8"/>
<text x="302.80" y="163.38" font-size="6.6" font-weight="bold" text-anchor="end" fill="#000" stroke="#000" stroke-width="0.3">3</text>
<line x1="306.40" y1="138.90" x2="310.00" y2="138.90" stroke="#333" stroke-width="0.8"/>
<text x="302.80" y="141.28" font-size="6.6" font-weight="bold" text-anchor="end" fill="#000" stroke="#000" stroke-width="0.3">4</text>
<line x1="318.60" y1="227.30" x2="318.60" y2="230.60" stroke="#333" stroke-width="0.8"/>
<line x1="331.70" y1="227.30" x2="331.70" y2="230.60" stroke="#333" stroke-width="0.8"/>
<line x1="344.45" y1="227.30" x2="344.45" y2="230.60" stroke="#333" stroke-width="0.8"/>
<line x1="357.35" y1="227.30" x2="357.35" y2="230.60" stroke="#333" stroke-width="0.8"/>
<text x="338.20" y="127.96" font-size="8.5" font-weight="bold" text-anchor="middle" fill="#000">Cis-Aconitate</text>
<text x="294.26" y="182.80" font-size="8.5" font-weight="bold" text-anchor="middle" fill="#000" transform="rotate(-90 294.26 182.80)">Relative abundance</text>
<line x1="340.90" y1="233.60" x2="361.30" y2="233.60" stroke="#333" stroke-width="0.9"/>
<text x="352.00" y="243.50" font-size="7.5" text-anchor="middle" fill="#222" stroke="#222" stroke-width="0.12">+LPS</text>
<rect x="349.90" y="359.40" width="8.50" height="11.00" fill="#000"/>
<line x1="354.15" y1="359.40" x2="354.15" y2="358.85" stroke="#000" stroke-width="0.9"/>
<line x1="352.15" y1="358.85" x2="356.15" y2="358.85" stroke="#000" stroke-width="0.9"/>
<rect x="362.70" y="360.50" width="8.60" height="9.90" fill="url(#kc)" stroke="#000" stroke-width="0.9"/>
<line x1="367.00" y1="360.50" x2="367.00" y2="359.40" stroke="#000" stroke-width="0.9"/>
<line x1="365.00" y1="359.40" x2="369.00" y2="359.40" stroke="#000" stroke-width="0.9"/>
<rect x="375.80" y="322.00" width="8.40" height="48.40" fill="#e2392b"/>
<line x1="380.00" y1="322.00" x2="380.00" y2="316.50" stroke="#e2392b" stroke-width="0.9"/>
<line x1="378.00" y1="316.50" x2="382.00" y2="316.50" stroke="#e2392b" stroke-width="0.9"/>
<rect x="388.70" y="325.85" width="9.20" height="44.55" fill="url(#rc)" stroke="#e2392b" stroke-width="0.9"/>
<line x1="393.30" y1="325.85" x2="393.30" y2="321.45" stroke="#e2392b" stroke-width="0.9"/>
<line x1="391.30" y1="321.45" x2="395.30" y2="321.45" stroke="#e2392b" stroke-width="0.9"/>
<circle cx="354.15" cy="358.30" r="1.6" fill="#fff" stroke="#000" stroke-width="0.9"/>
<circle cx="350.46" cy="358.85" r="1.6" fill="#fff" stroke="#000" stroke-width="0.9"/>
<circle cx="357.84" cy="359.40" r="1.6" fill="#fff" stroke="#000" stroke-width="0.9"/>
<circle cx="356.70" cy="359.95" r="1.6" fill="#fff" stroke="#000" stroke-width="0.9"/>
<circle cx="352.45" cy="360.50" r="1.6" fill="#fff" stroke="#000" stroke-width="0.9"/>
<circle cx="367.00" cy="356.10" r="1.6" fill="#fff" stroke="#000" stroke-width="0.9"/>
<circle cx="363.31" cy="358.30" r="1.6" fill="#fff" stroke="#000" stroke-width="0.9"/>
<circle cx="367.00" cy="359.40" r="1.6" fill="#fff" stroke="#000" stroke-width="0.9"/>
<circle cx="370.69" cy="360.50" r="1.6" fill="#fff" stroke="#000" stroke-width="0.9"/>
<circle cx="363.31" cy="361.60" r="1.6" fill="#fff" stroke="#000" stroke-width="0.9"/>
<circle cx="367.00" cy="363.80" r="1.6" fill="#fff" stroke="#000" stroke-width="0.9"/>
<circle cx="363.31" cy="364.90" r="1.6" fill="#fff" stroke="#000" stroke-width="0.9"/>
<circle cx="380.00" cy="293.40" r="1.6" fill="#fff" stroke="#000" stroke-width="0.9"/>
<circle cx="380.00" cy="301.10" r="1.6" fill="#fff" stroke="#000" stroke-width="0.9"/>
<circle cx="380.00" cy="304.40" r="1.6" fill="#fff" stroke="#000" stroke-width="0.9"/>
<circle cx="376.31" cy="306.60" r="1.6" fill="#fff" stroke="#000" stroke-width="0.9"/>
<circle cx="380.00" cy="309.90" r="1.6" fill="#fff" stroke="#000" stroke-width="0.9"/>
<circle cx="380.00" cy="338.50" r="1.6" fill="#fff" stroke="#000" stroke-width="0.9"/>
<circle cx="376.31" cy="339.60" r="1.6" fill="#fff" stroke="#000" stroke-width="0.9"/>
<circle cx="383.69" cy="340.70" r="1.6" fill="#fff" stroke="#000" stroke-width="0.9"/>
<circle cx="379.16" cy="340.70" r="1.6" fill="#fff" stroke="#000" stroke-width="0.9"/>
<circle cx="393.30" cy="304.40" r="1.6" fill="#fff" stroke="#000" stroke-width="0.9"/>
<circle cx="393.30" cy="308.80" r="1.6" fill="#fff" stroke="#000" stroke-width="0.9"/>
<circle cx="393.30" cy="313.20" r="1.6" fill="#fff" stroke="#000" stroke-width="0.9"/>
<circle cx="393.30" cy="317.60" r="1.6" fill="#fff" stroke="#000" stroke-width="0.9"/>
<circle cx="393.30" cy="322.00" r="1.6" fill="#fff" stroke="#000" stroke-width="0.9"/>
<circle cx="393.30" cy="326.40" r="1.6" fill="#fff" stroke="#000" stroke-width="0.9"/>
<circle cx="393.30" cy="334.10" r="1.6" fill="#fff" stroke="#000" stroke-width="0.9"/>
<circle cx="389.61" cy="335.20" r="1.6" fill="#fff" stroke="#000" stroke-width="0.9"/>
<circle cx="396.99" cy="336.30" r="1.6" fill="#fff" stroke="#000" stroke-width="0.9"/>
<circle cx="393.30" cy="338.50" r="1.6" fill="#fff" stroke="#000" stroke-width="0.9"/>
<line x1="344.60" y1="282.40" x2="344.60" y2="370.90" stroke="#8a8a8a" stroke-width="1.0"/>
<line x1="344.10" y1="370.40" x2="402.00" y2="370.40" stroke="#8a8a8a" stroke-width="1.0"/>
<line x1="341.00" y1="370.40" x2="344.60" y2="370.40" stroke="#333" stroke-width="0.8"/>
<text x="337.40" y="372.78" font-size="6.6" font-weight="bold" text-anchor="end" fill="#000" stroke="#000" stroke-width="0.3">0</text>
<line x1="341.00" y1="348.40" x2="344.60" y2="348.40" stroke="#333" stroke-width="0.8"/>
<text x="337.40" y="350.78" font-size="6.6" font-weight="bold" text-anchor="end" fill="#000" stroke="#000" stroke-width="0.3">2</text>
<line x1="341.00" y1="326.40" x2="344.60" y2="326.40" stroke="#333" stroke-width="0.8"/>
<text x="337.40" y="328.78" font-size="6.6" font-weight="bold" text-anchor="end" fill="#000" stroke="#000" stroke-width="0.3">4</text>
<line x1="341.00" y1="304.40" x2="344.60" y2="304.40" stroke="#333" stroke-width="0.8"/>
<text x="337.40" y="306.78" font-size="6.6" font-weight="bold" text-anchor="end" fill="#000" stroke="#000" stroke-width="0.3">6</text>
<line x1="341.00" y1="282.40" x2="344.60" y2="282.40" stroke="#333" stroke-width="0.8"/>
<text x="337.40" y="284.78" font-size="6.6" font-weight="bold" text-anchor="end" fill="#000" stroke="#000" stroke-width="0.3">8</text>
<line x1="354.15" y1="370.40" x2="354.15" y2="373.70" stroke="#333" stroke-width="0.8"/>
<line x1="367.00" y1="370.40" x2="367.00" y2="373.70" stroke="#333" stroke-width="0.8"/>
<line x1="380.00" y1="370.40" x2="380.00" y2="373.70" stroke="#333" stroke-width="0.8"/>
<line x1="393.30" y1="370.40" x2="393.30" y2="373.70" stroke="#333" stroke-width="0.8"/>
<text x="370.90" y="271.06" font-size="8.5" font-weight="bold" text-anchor="middle" fill="#000">Itaconic acid</text>
<text x="327.36" y="326.40" font-size="8.5" font-weight="bold" text-anchor="middle" fill="#000" transform="rotate(-90 327.36 326.40)">Relative abundance</text>
<line x1="376.40" y1="377.30" x2="397.50" y2="377.30" stroke="#333" stroke-width="0.9"/>
<text x="387.30" y="386.50" font-size="7.5" text-anchor="middle" fill="#222" stroke="#222" stroke-width="0.12">+LPS</text>
<rect x="259.90" y="366.95" width="9.00" height="44.25" fill="#000"/>
<line x1="264.40" y1="366.95" x2="264.40" y2="362.52" stroke="#000" stroke-width="0.9"/>
<line x1="262.40" y1="362.52" x2="266.40" y2="362.52" stroke="#000" stroke-width="0.9"/>
<rect x="273.00" y="369.16" width="8.70" height="42.04" fill="url(#kc)" stroke="#000" stroke-width="0.9"/>
<line x1="277.35" y1="369.16" x2="277.35" y2="365.62" stroke="#000" stroke-width="0.9"/>
<line x1="275.35" y1="365.62" x2="279.35" y2="365.62" stroke="#000" stroke-width="0.9"/>
<rect x="285.80" y="378.01" width="9.00" height="33.19" fill="#e2392b"/>
<line x1="290.30" y1="378.01" x2="290.30" y2="373.59" stroke="#e2392b" stroke-width="0.9"/>
<line x1="288.30" y1="373.59" x2="292.30" y2="373.59" stroke="#e2392b" stroke-width="0.9"/>
<rect x="299.10" y="394.83" width="8.80" height="16.37" fill="url(#rc)" stroke="#e2392b" stroke-width="0.9"/>
<line x1="303.50" y1="394.83" x2="303.50" y2="391.73" stroke="#e2392b" stroke-width="0.9"/>
<line x1="301.50" y1="391.73" x2="305.50" y2="391.73" stroke="#e2392b" stroke-width="0.9"/>
<circle cx="264.40" cy="338.19" r="1.9" fill="#fff" stroke="#000" stroke-width="0.9"/>
<circle cx="264.40" cy="347.04" r="1.9" fill="#fff" stroke="#000" stroke-width="0.9"/>
<circle cx="260.17" cy="347.04" r="1.9" fill="#fff" stroke="#000" stroke-width="0.9"/>
<circle cx="264.40" cy="360.31" r="1.9" fill="#fff" stroke="#000" stroke-width="0.9"/>
<circle cx="264.40" cy="369.16" r="1.9" fill="#fff" stroke="#000" stroke-width="0.9"/>
<circle cx="264.40" cy="375.80" r="1.9" fill="#fff" stroke="#000" stroke-width="0.9"/>
<circle cx="260.17" cy="378.01" r="1.9" fill="#fff" stroke="#000" stroke-width="0.9"/>
<circle cx="264.40" cy="382.44" r="1.9" fill="#fff" stroke="#000" stroke-width="0.9"/>
<circle cx="264.40" cy="389.07" r="1.9" fill="#fff" stroke="#000" stroke-width="0.9"/>
<circle cx="277.35" cy="347.04" r="1.9" fill="#fff" stroke="#000" stroke-width="0.9"/>
<circle cx="273.12" cy="349.25" r="1.9" fill="#fff" stroke="#000" stroke-width="0.9"/>
<circle cx="277.35" cy="353.68" r="1.9" fill="#fff" stroke="#000" stroke-width="0.9"/>
<circle cx="277.35" cy="358.10" r="1.9" fill="#fff" stroke="#000" stroke-width="0.9"/>
<circle cx="277.35" cy="362.52" r="1.9" fill="#fff" stroke="#000" stroke-width="0.9"/>
<circle cx="277.35" cy="369.16" r="1.9" fill="#fff" stroke="#000" stroke-width="0.9"/>
<circle cx="277.35" cy="375.80" r="1.9" fill="#fff" stroke="#000" stroke-width="0.9"/>
<circle cx="277.35" cy="382.44" r="1.9" fill="#fff" stroke="#000" stroke-width="0.9"/>
<circle cx="277.35" cy="389.07" r="1.9" fill="#fff" stroke="#000" stroke-width="0.9"/>
<circle cx="277.35" cy="395.71" r="1.9" fill="#fff" stroke="#000" stroke-width="0.9"/>
<circle cx="290.30" cy="353.68" r="1.9" fill="#fff" stroke="#000" stroke-width="0.9"/>
<circle cx="286.07" cy="355.89" r="1.9" fill="#fff" stroke="#000" stroke-width="0.9"/>
<circle cx="290.30" cy="364.74" r="1.9" fill="#fff" stroke="#000" stroke-width="0.9"/>
<circle cx="290.30" cy="371.38" r="1.9" fill="#fff" stroke="#000" stroke-width="0.9"/>
<circle cx="290.30" cy="378.01" r="1.9" fill="#fff" stroke="#000" stroke-width="0.9"/>
<circle cx="290.30" cy="384.65" r="1.9" fill="#fff" stroke="#000" stroke-width="0.9"/>
<circle cx="286.07" cy="386.86" r="1.9" fill="#fff" stroke="#000" stroke-width="0.9"/>
<circle cx="290.30" cy="389.07" r="1.9" fill="#fff" stroke="#000" stroke-width="0.9"/>
<circle cx="286.07" cy="391.29" r="1.9" fill="#fff" stroke="#000" stroke-width="0.9"/>
<circle cx="303.50" cy="382.44" r="1.9" fill="#fff" stroke="#000" stroke-width="0.9"/>
<circle cx="299.27" cy="384.65" r="1.9" fill="#fff" stroke="#000" stroke-width="0.9"/>
<circle cx="303.50" cy="386.86" r="1.9" fill="#fff" stroke="#000" stroke-width="0.9"/>
<circle cx="303.50" cy="391.29" r="1.9" fill="#fff" stroke="#000" stroke-width="0.9"/>
<circle cx="303.50" cy="397.93" r="1.9" fill="#fff" stroke="#000" stroke-width="0.9"/>
<circle cx="303.50" cy="402.35" r="1.9" fill="#fff" stroke="#000" stroke-width="0.9"/>
<circle cx="299.27" cy="404.56" r="1.9" fill="#fff" stroke="#000" stroke-width="0.9"/>
<circle cx="303.50" cy="406.77" r="1.9" fill="#fff" stroke="#000" stroke-width="0.9"/>
<circle cx="299.27" cy="408.99" r="1.9" fill="#fff" stroke="#000" stroke-width="0.9"/>
<line x1="255.20" y1="322.70" x2="255.20" y2="411.70" stroke="#8a8a8a" stroke-width="1.0"/>
<line x1="254.70" y1="411.20" x2="312.00" y2="411.20" stroke="#8a8a8a" stroke-width="1.0"/>
<line x1="251.60" y1="411.20" x2="255.20" y2="411.20" stroke="#333" stroke-width="0.8"/>
<text x="248.00" y="413.58" font-size="6.6" font-weight="bold" text-anchor="end" fill="#000" stroke="#000" stroke-width="0.3">0.0</text>
<line x1="251.60" y1="389.07" x2="255.20" y2="389.07" stroke="#333" stroke-width="0.8"/>
<text x="248.00" y="391.45" font-size="6.6" font-weight="bold" text-anchor="end" fill="#000" stroke="#000" stroke-width="0.3">0.5</text>
<line x1="251.60" y1="366.95" x2="255.20" y2="366.95" stroke="#333" stroke-width="0.8"/>
<text x="248.00" y="369.33" font-size="6.6" font-weight="bold" text-anchor="end" fill="#000" stroke="#000" stroke-width="0.3">1.0</text>
<line x1="251.60" y1="344.82" x2="255.20" y2="344.82" stroke="#333" stroke-width="0.8"/>
<text x="248.00" y="347.20" font-size="6.6" font-weight="bold" text-anchor="end" fill="#000" stroke="#000" stroke-width="0.3">1.5</text>
<line x1="251.60" y1="322.70" x2="255.20" y2="322.70" stroke="#333" stroke-width="0.8"/>
<text x="248.00" y="325.08" font-size="6.6" font-weight="bold" text-anchor="end" fill="#000" stroke="#000" stroke-width="0.3">2.0</text>
<line x1="264.40" y1="411.20" x2="264.40" y2="414.50" stroke="#333" stroke-width="0.8"/>
<line x1="277.35" y1="411.20" x2="277.35" y2="414.50" stroke="#333" stroke-width="0.8"/>
<line x1="290.30" y1="411.20" x2="290.30" y2="414.50" stroke="#333" stroke-width="0.8"/>
<line x1="303.50" y1="411.20" x2="303.50" y2="414.50" stroke="#333" stroke-width="0.8"/>
<text x="274.60" y="311.86" font-size="8.5" font-weight="bold" text-anchor="middle" fill="#000">&#945;-Ketoglutarate</text>
<text x="231.66" y="367.00" font-size="8.5" font-weight="bold" text-anchor="middle" fill="#000" transform="rotate(-90 231.66 367.00)">Relative abundance</text>
<line x1="285.80" y1="417.70" x2="307.30" y2="417.70" stroke="#333" stroke-width="0.9"/>
<text x="297.00" y="427.60" font-size="7.5" text-anchor="middle" fill="#222" stroke="#222" stroke-width="0.12">+LPS</text>
<rect x="127.40" y="418.32" width="8.60" height="17.78" fill="#000"/>
<line x1="131.70" y1="418.32" x2="131.70" y2="417.08" stroke="#000" stroke-width="0.9"/>
<line x1="129.70" y1="417.08" x2="133.70" y2="417.08" stroke="#000" stroke-width="0.9"/>
<rect x="140.00" y="412.99" width="9.00" height="23.11" fill="url(#kc)" stroke="#000" stroke-width="0.9"/>
<line x1="144.50" y1="412.99" x2="144.50" y2="410.32" stroke="#000" stroke-width="0.9"/>
<line x1="142.50" y1="410.32" x2="146.50" y2="410.32" stroke="#000" stroke-width="0.9"/>
<rect x="153.20" y="370.31" width="8.80" height="65.79" fill="#e2392b"/>
<line x1="157.60" y1="370.31" x2="157.60" y2="367.65" stroke="#e2392b" stroke-width="0.9"/>
<line x1="155.60" y1="367.65" x2="159.60" y2="367.65" stroke="#e2392b" stroke-width="0.9"/>
<rect x="166.00" y="365.87" width="8.80" height="70.23" fill="url(#rc)" stroke="#e2392b" stroke-width="0.9"/>
<line x1="170.40" y1="365.87" x2="170.40" y2="363.20" stroke="#e2392b" stroke-width="0.9"/>
<line x1="168.40" y1="363.20" x2="172.40" y2="363.20" stroke="#e2392b" stroke-width="0.9"/>
<circle cx="131.70" cy="412.99" r="1.9" fill="#fff" stroke="#000" stroke-width="0.9"/>
<circle cx="127.47" cy="413.88" r="1.9" fill="#fff" stroke="#000" stroke-width="0.9"/>
<circle cx="135.93" cy="415.65" r="1.9" fill="#fff" stroke="#000" stroke-width="0.9"/>
<circle cx="131.70" cy="417.43" r="1.9" fill="#fff" stroke="#000" stroke-width="0.9"/>
<circle cx="127.47" cy="418.32" r="1.9" fill="#fff" stroke="#000" stroke-width="0.9"/>
<circle cx="131.70" cy="419.21" r="1.9" fill="#fff" stroke="#000" stroke-width="0.9"/>
<circle cx="131.70" cy="423.65" r="1.9" fill="#fff" stroke="#000" stroke-width="0.9"/>
<circle cx="144.50" cy="396.98" r="1.9" fill="#fff" stroke="#000" stroke-width="0.9"/>
<circle cx="144.50" cy="405.87" r="1.9" fill="#fff" stroke="#000" stroke-width="0.9"/>
<circle cx="140.27" cy="406.76" r="1.9" fill="#fff" stroke="#000" stroke-width="0.9"/>
<circle cx="146.62" cy="409.43" r="1.9" fill="#fff" stroke="#000" stroke-width="0.9"/>
<circle cx="144.50" cy="412.99" r="1.9" fill="#fff" stroke="#000" stroke-width="0.9"/>
<circle cx="140.27" cy="414.76" r="1.9" fill="#fff" stroke="#000" stroke-width="0.9"/>
<circle cx="144.50" cy="418.32" r="1.9" fill="#fff" stroke="#000" stroke-width="0.9"/>
<circle cx="144.50" cy="423.65" r="1.9" fill="#fff" stroke="#000" stroke-width="0.9"/>
<circle cx="157.60" cy="355.20" r="1.9" fill="#fff" stroke="#000" stroke-width="0.9"/>
<circle cx="157.60" cy="362.31" r="1.9" fill="#fff" stroke="#000" stroke-width="0.9"/>
<circle cx="153.37" cy="364.98" r="1.9" fill="#fff" stroke="#000" stroke-width="0.9"/>
<circle cx="157.60" cy="367.65" r="1.9" fill="#fff" stroke="#000" stroke-width="0.9"/>
<circle cx="153.37" cy="370.31" r="1.9" fill="#fff" stroke="#000" stroke-width="0.9"/>
<circle cx="157.60" cy="372.09" r="1.9" fill="#fff" stroke="#000" stroke-width="0.9"/>
<circle cx="161.83" cy="373.87" r="1.9" fill="#fff" stroke="#000" stroke-width="0.9"/>
<circle cx="157.60" cy="377.43" r="1.9" fill="#fff" stroke="#000" stroke-width="0.9"/>
<circle cx="157.60" cy="388.09" r="1.9" fill="#fff" stroke="#000" stroke-width="0.9"/>
<circle cx="170.40" cy="352.53" r="1.9" fill="#fff" stroke="#000" stroke-width="0.9"/>
<circle cx="166.17" cy="354.31" r="1.9" fill="#fff" stroke="#000" stroke-width="0.9"/>
<circle cx="170.40" cy="357.87" r="1.9" fill="#fff" stroke="#000" stroke-width="0.9"/>
<circle cx="168.28" cy="361.42" r="1.9" fill="#fff" stroke="#000" stroke-width="0.9"/>
<circle cx="170.40" cy="364.98" r="1.9" fill="#fff" stroke="#000" stroke-width="0.9"/>
<circle cx="168.28" cy="368.54" r="1.9" fill="#fff" stroke="#000" stroke-width="0.9"/>
<circle cx="170.40" cy="372.09" r="1.9" fill="#fff" stroke="#000" stroke-width="0.9"/>
<circle cx="166.17" cy="373.87" r="1.9" fill="#fff" stroke="#000" stroke-width="0.9"/>
<circle cx="170.40" cy="382.76" r="1.9" fill="#fff" stroke="#000" stroke-width="0.9"/>
<line x1="122.70" y1="347.20" x2="122.70" y2="436.60" stroke="#8a8a8a" stroke-width="1.0"/>
<line x1="122.20" y1="436.10" x2="179.30" y2="436.10" stroke="#8a8a8a" stroke-width="1.0"/>
<line x1="119.10" y1="436.10" x2="122.70" y2="436.10" stroke="#333" stroke-width="0.8"/>
<text x="115.50" y="438.48" font-size="6.6" font-weight="bold" text-anchor="end" fill="#000" stroke="#000" stroke-width="0.3">0</text>
<line x1="119.10" y1="418.32" x2="122.70" y2="418.32" stroke="#333" stroke-width="0.8"/>
<text x="115.50" y="420.70" font-size="6.6" font-weight="bold" text-anchor="end" fill="#000" stroke="#000" stroke-width="0.3">1</text>
<line x1="119.10" y1="400.54" x2="122.70" y2="400.54" stroke="#333" stroke-width="0.8"/>
<text x="115.50" y="402.92" font-size="6.6" font-weight="bold" text-anchor="end" fill="#000" stroke="#000" stroke-width="0.3">2</text>
<line x1="119.10" y1="382.76" x2="122.70" y2="382.76" stroke="#333" stroke-width="0.8"/>
<text x="115.50" y="385.14" font-size="6.6" font-weight="bold" text-anchor="end" fill="#000" stroke="#000" stroke-width="0.3">3</text>
<line x1="119.10" y1="364.98" x2="122.70" y2="364.98" stroke="#333" stroke-width="0.8"/>
<text x="115.50" y="367.36" font-size="6.6" font-weight="bold" text-anchor="end" fill="#000" stroke="#000" stroke-width="0.3">4</text>
<line x1="119.10" y1="347.20" x2="122.70" y2="347.20" stroke="#333" stroke-width="0.8"/>
<text x="115.50" y="349.58" font-size="6.6" font-weight="bold" text-anchor="end" fill="#000" stroke="#000" stroke-width="0.3">5</text>
<line x1="131.70" y1="436.10" x2="131.70" y2="439.40" stroke="#333" stroke-width="0.8"/>
<line x1="144.50" y1="436.10" x2="144.50" y2="439.40" stroke="#333" stroke-width="0.8"/>
<line x1="157.60" y1="436.10" x2="157.60" y2="439.40" stroke="#333" stroke-width="0.8"/>
<line x1="170.40" y1="436.10" x2="170.40" y2="439.40" stroke="#333" stroke-width="0.8"/>
<text x="150.90" y="336.36" font-size="8.5" font-weight="bold" text-anchor="middle" fill="#000">Succinate</text>
<text x="104.26" y="391.50" font-size="8.5" font-weight="bold" text-anchor="middle" fill="#000" transform="rotate(-90 104.26 391.50)">Relative abundance</text>
<line x1="154.00" y1="442.60" x2="174.80" y2="442.60" stroke="#333" stroke-width="0.9"/>
<text x="164.60" y="452.10" font-size="7.5" text-anchor="middle" fill="#222" stroke="#222" stroke-width="0.12">+LPS</text>
<ellipse cx="184" cy="260.7" rx="57.3" ry="56.6" fill="none" stroke="#555" stroke-width="0.6"/>
<path d="M159,191.5 Q163,202 178,204.2" fill="none" stroke="#555" stroke-width="0.6"/>
<path d="M187.50,204.10 L184.00,205.29 L184.00,202.91 z" fill="#222"/>
<path d="M241.30,263.70 L240.11,260.20 L242.49,260.20 z" fill="#222"/>
<path d="M181.20,317.30 L184.70,316.11 L184.70,318.49 z" fill="#222"/>
<path d="M127.00,257.40 L128.19,260.90 L125.81,260.90 z" fill="#222"/>
<text x="157.20" y="217.10" font-size="8" text-anchor="middle" fill="#000" stroke="#000" stroke-width="0.12">Oxaloacetate</text>
<text x="220.80" y="221.00" font-size="8" text-anchor="middle" fill="#000" stroke="#000" stroke-width="0.12">(Iso)citrate</text>
<text x="134.00" y="242.50" font-size="8" text-anchor="middle" fill="#000" stroke="#000" stroke-width="0.12">Malate</text>
<text x="214.20" y="254.30" font-size="8" text-anchor="start" fill="#000" stroke="#000" stroke-width="0.12">Cis-Aconitate</text>
<text x="132.50" y="276.30" font-size="8" text-anchor="middle" fill="#000" stroke="#000" stroke-width="0.12">Fumarate</text>
<text x="201.00" y="285.60" font-size="8" text-anchor="start" fill="#000" stroke="#000" stroke-width="0.12">&#945;-Ketoglutarate</text>
<text x="155.40" y="308.50" font-size="8" text-anchor="middle" fill="#000" stroke="#000" stroke-width="0.12">Succinate</text>
<text x="209.60" y="313.70" font-size="8" text-anchor="middle" fill="#000" stroke="#000" stroke-width="0.12">Succinyl-CoA</text>
<text x="292.40" y="253.40" font-size="8" text-anchor="start" fill="#000" stroke="#000" stroke-width="0.12">Itaconic acid</text>
<line x1="262.80" y1="251.40" x2="288.50" y2="251.40" stroke="#222" stroke-width="0.6"/>
<path d="M291.20,251.40 L287.70,252.59 L287.70,250.21 z" fill="#222"/>
<line x1="117.20" y1="224.10" x2="124.20" y2="234.90" stroke="#666" stroke-width="0.6" stroke-dasharray="3.6,3.4"/>
<line x1="96.50" y1="274.10" x2="111.00" y2="274.10" stroke="#666" stroke-width="0.6" stroke-dasharray="3.6,3.4"/>
<line x1="136.80" y1="311.00" x2="130.50" y2="322.50" stroke="#666" stroke-width="0.6" stroke-dasharray="3.6,3.4"/>
<line x1="240.40" y1="195.00" x2="233.80" y2="214.50" stroke="#666" stroke-width="0.6" stroke-dasharray="3.6,3.4"/>
<line x1="262.60" y1="247.00" x2="291.80" y2="230.00" stroke="#666" stroke-width="0.6" stroke-dasharray="3.6,3.4"/>
<line x1="336.20" y1="257.80" x2="336.50" y2="265.00" stroke="#666" stroke-width="0.6" stroke-dasharray="3.6,3.4"/>
<line x1="259.50" y1="286.20" x2="268.00" y2="293.80" stroke="#666" stroke-width="0.6" stroke-dasharray="3.6,3.4"/>
<rect x="495.60" y="173.33" width="9.80" height="31.97" fill="#000"/>
<line x1="500.50" y1="173.33" x2="500.50" y2="172.00" stroke="#000" stroke-width="0.9"/>
<line x1="498.50" y1="172.00" x2="502.50" y2="172.00" stroke="#000" stroke-width="0.9"/>
<rect x="510.00" y="180.66" width="10.10" height="24.64" fill="url(#kc)" stroke="#000" stroke-width="0.9"/>
<line x1="515.05" y1="180.66" x2="515.05" y2="178.66" stroke="#000" stroke-width="0.9"/>
<line x1="513.05" y1="178.66" x2="517.05" y2="178.66" stroke="#000" stroke-width="0.9"/>
<rect x="524.80" y="132.71" width="10.10" height="72.59" fill="#e2392b"/>
<line x1="529.85" y1="132.71" x2="529.85" y2="129.38" stroke="#e2392b" stroke-width="0.9"/>
<line x1="527.85" y1="129.38" x2="531.85" y2="129.38" stroke="#e2392b" stroke-width="0.9"/>
<rect x="539.60" y="138.03" width="10.20" height="67.27" fill="url(#rc)" stroke="#e2392b" stroke-width="0.9"/>
<line x1="544.70" y1="138.03" x2="544.70" y2="137.37" stroke="#e2392b" stroke-width="0.9"/>
<line x1="542.70" y1="137.37" x2="546.70" y2="137.37" stroke="#e2392b" stroke-width="0.9"/>
<circle cx="500.50" cy="170.67" r="2.0" fill="#fff" stroke="#000" stroke-width="0.9"/>
<circle cx="496.82" cy="172.00" r="2.0" fill="#fff" stroke="#000" stroke-width="0.9"/>
<circle cx="504.18" cy="173.33" r="2.0" fill="#fff" stroke="#000" stroke-width="0.9"/>
<circle cx="515.05" cy="177.33" r="2.0" fill="#fff" stroke="#000" stroke-width="0.9"/>
<circle cx="515.05" cy="181.32" r="2.0" fill="#fff" stroke="#000" stroke-width="0.9"/>
<circle cx="511.37" cy="183.32" r="2.0" fill="#fff" stroke="#000" stroke-width="0.9"/>
<circle cx="529.85" cy="127.38" r="2.0" fill="#fff" stroke="#000" stroke-width="0.9"/>
<circle cx="529.85" cy="132.04" r="2.0" fill="#fff" stroke="#000" stroke-width="0.9"/>
<circle cx="529.85" cy="137.37" r="2.0" fill="#fff" stroke="#000" stroke-width="0.9"/>
<circle cx="544.70" cy="137.37" r="2.0" fill="#fff" stroke="#000" stroke-width="0.9"/>
<circle cx="541.03" cy="138.03" r="2.0" fill="#fff" stroke="#000" stroke-width="0.9"/>
<circle cx="548.38" cy="138.70" r="2.0" fill="#fff" stroke="#000" stroke-width="0.9"/>
<line x1="490.50" y1="105.40" x2="490.50" y2="205.80" stroke="#8a8a8a" stroke-width="1.0"/>
<line x1="490.00" y1="205.30" x2="555.00" y2="205.30" stroke="#8a8a8a" stroke-width="1.0"/>
<line x1="486.90" y1="205.30" x2="490.50" y2="205.30" stroke="#333" stroke-width="0.8"/>
<text x="483.30" y="207.82" font-size="7.0" font-weight="bold" text-anchor="end" fill="#000" stroke="#000" stroke-width="0.3">0.0</text>
<line x1="486.90" y1="172.00" x2="490.50" y2="172.00" stroke="#333" stroke-width="0.8"/>
<text x="483.30" y="174.52" font-size="7.0" font-weight="bold" text-anchor="end" fill="#000" stroke="#000" stroke-width="0.3">0.5</text>
<line x1="486.90" y1="138.70" x2="490.50" y2="138.70" stroke="#333" stroke-width="0.8"/>
<text x="483.30" y="141.22" font-size="7.0" font-weight="bold" text-anchor="end" fill="#000" stroke="#000" stroke-width="0.3">1.0</text>
<line x1="486.90" y1="105.40" x2="490.50" y2="105.40" stroke="#333" stroke-width="0.8"/>
<text x="483.30" y="107.92" font-size="7.0" font-weight="bold" text-anchor="end" fill="#000" stroke="#000" stroke-width="0.3">1.5</text>
<line x1="500.50" y1="205.30" x2="500.50" y2="208.60" stroke="#333" stroke-width="0.8"/>
<line x1="515.05" y1="205.30" x2="515.05" y2="208.60" stroke="#333" stroke-width="0.8"/>
<line x1="529.85" y1="205.30" x2="529.85" y2="208.60" stroke="#333" stroke-width="0.8"/>
<line x1="544.70" y1="205.30" x2="544.70" y2="208.60" stroke="#333" stroke-width="0.8"/>
<text x="463.46" y="154.70" font-size="9.6" font-weight="bold" text-anchor="middle" fill="#000" transform="rotate(-90 463.46 154.70)">Lactate production  (mM)</text>
<rect x="626.10" y="191.98" width="9.40" height="13.32" fill="#000"/>
<line x1="630.80" y1="191.98" x2="630.80" y2="184.65" stroke="#000" stroke-width="0.9"/>
<line x1="628.80" y1="184.65" x2="632.80" y2="184.65" stroke="#000" stroke-width="0.9"/>
<rect x="640.40" y="196.31" width="9.60" height="8.99" fill="url(#kc)" stroke="#000" stroke-width="0.9"/>
<line x1="645.20" y1="196.31" x2="645.20" y2="192.98" stroke="#000" stroke-width="0.9"/>
<line x1="643.20" y1="192.98" x2="647.20" y2="192.98" stroke="#000" stroke-width="0.9"/>
<rect x="655.40" y="149.36" width="9.20" height="55.94" fill="#e2392b"/>
<line x1="660.00" y1="149.36" x2="660.00" y2="142.03" stroke="#e2392b" stroke-width="0.9"/>
<line x1="658.00" y1="142.03" x2="662.00" y2="142.03" stroke="#e2392b" stroke-width="0.9"/>
<rect x="670.00" y="147.36" width="10.00" height="57.94" fill="url(#rc)" stroke="#e2392b" stroke-width="0.9"/>
<line x1="675.00" y1="147.36" x2="675.00" y2="145.36" stroke="#e2392b" stroke-width="0.9"/>
<line x1="673.00" y1="145.36" x2="677.00" y2="145.36" stroke="#e2392b" stroke-width="0.9"/>
<circle cx="630.80" cy="183.32" r="2.0" fill="#fff" stroke="#000" stroke-width="0.9"/>
<circle cx="627.12" cy="186.65" r="2.0" fill="#fff" stroke="#000" stroke-width="0.9"/>
<circle cx="630.80" cy="205.30" r="2.0" fill="#fff" stroke="#000" stroke-width="0.9"/>
<circle cx="645.20" cy="191.98" r="2.0" fill="#fff" stroke="#000" stroke-width="0.9"/>
<circle cx="641.53" cy="192.65" r="2.0" fill="#fff" stroke="#000" stroke-width="0.9"/>
<circle cx="645.20" cy="204.63" r="2.0" fill="#fff" stroke="#000" stroke-width="0.9"/>
<circle cx="660.00" cy="134.04" r="2.0" fill="#fff" stroke="#000" stroke-width="0.9"/>
<circle cx="660.00" cy="154.68" r="2.0" fill="#fff" stroke="#000" stroke-width="0.9"/>
<circle cx="656.33" cy="157.35" r="2.0" fill="#fff" stroke="#000" stroke-width="0.9"/>
<circle cx="675.00" cy="141.36" r="2.0" fill="#fff" stroke="#000" stroke-width="0.9"/>
<circle cx="671.33" cy="144.03" r="2.0" fill="#fff" stroke="#000" stroke-width="0.9"/>
<circle cx="675.00" cy="155.35" r="2.0" fill="#fff" stroke="#000" stroke-width="0.9"/>
<line x1="621.20" y1="105.40" x2="621.20" y2="205.80" stroke="#8a8a8a" stroke-width="1.0"/>
<line x1="620.70" y1="205.30" x2="685.00" y2="205.30" stroke="#8a8a8a" stroke-width="1.0"/>
<line x1="617.60" y1="205.30" x2="621.20" y2="205.30" stroke="#333" stroke-width="0.8"/>
<text x="614.00" y="207.82" font-size="7.0" font-weight="bold" text-anchor="end" fill="#000" stroke="#000" stroke-width="0.3">0</text>
<line x1="617.60" y1="172.00" x2="621.20" y2="172.00" stroke="#333" stroke-width="0.8"/>
<text x="614.00" y="174.52" font-size="7.0" font-weight="bold" text-anchor="end" fill="#000" stroke="#000" stroke-width="0.3">5</text>
<line x1="617.60" y1="138.70" x2="621.20" y2="138.70" stroke="#333" stroke-width="0.8"/>
<text x="614.00" y="141.22" font-size="7.0" font-weight="bold" text-anchor="end" fill="#000" stroke="#000" stroke-width="0.3">10</text>
<line x1="617.60" y1="105.40" x2="621.20" y2="105.40" stroke="#333" stroke-width="0.8"/>
<text x="614.00" y="107.92" font-size="7.0" font-weight="bold" text-anchor="end" fill="#000" stroke="#000" stroke-width="0.3">15</text>
<line x1="630.80" y1="205.30" x2="630.80" y2="208.60" stroke="#333" stroke-width="0.8"/>
<line x1="645.20" y1="205.30" x2="645.20" y2="208.60" stroke="#333" stroke-width="0.8"/>
<line x1="660.00" y1="205.30" x2="660.00" y2="208.60" stroke="#333" stroke-width="0.8"/>
<line x1="675.00" y1="205.30" x2="675.00" y2="208.60" stroke="#333" stroke-width="0.8"/>
<text x="596.46" y="154.80" font-size="9.6" font-weight="bold" text-anchor="middle" fill="#000" transform="rotate(-90 596.46 154.80)">Glucose usage (mM)</text>
<rect x="495.20" y="319.84" width="9.60" height="39.76" fill="#000"/>
<line x1="500.00" y1="319.84" x2="500.00" y2="316.66" stroke="#000" stroke-width="0.9"/>
<line x1="498.00" y1="316.66" x2="502.00" y2="316.66" stroke="#000" stroke-width="0.9"/>
<rect x="510.00" y="328.98" width="9.70" height="30.62" fill="url(#kc)" stroke="#000" stroke-width="0.9"/>
<line x1="514.85" y1="328.98" x2="514.85" y2="325.01" stroke="#000" stroke-width="0.9"/>
<line x1="512.85" y1="325.01" x2="516.85" y2="325.01" stroke="#000" stroke-width="0.9"/>
<rect x="524.60" y="295.98" width="9.80" height="63.62" fill="#e2392b"/>
<line x1="529.50" y1="295.98" x2="529.50" y2="288.03" stroke="#e2392b" stroke-width="0.9"/>
<line x1="527.50" y1="288.03" x2="531.50" y2="288.03" stroke="#e2392b" stroke-width="0.9"/>
<rect x="539.10" y="295.98" width="10.10" height="63.62" fill="url(#rc)" stroke="#e2392b" stroke-width="0.9"/>
<line x1="544.15" y1="295.98" x2="544.15" y2="291.21" stroke="#e2392b" stroke-width="0.9"/>
<line x1="542.15" y1="291.21" x2="546.15" y2="291.21" stroke="#e2392b" stroke-width="0.9"/>
<circle cx="500.00" cy="309.90" r="2.0" fill="#fff" stroke="#000" stroke-width="0.9"/>
<circle cx="496.32" cy="311.89" r="2.0" fill="#fff" stroke="#000" stroke-width="0.9"/>
<circle cx="500.00" cy="319.84" r="2.0" fill="#fff" stroke="#000" stroke-width="0.9"/>
<circle cx="500.00" cy="325.80" r="2.0" fill="#fff" stroke="#000" stroke-width="0.9"/>
<circle cx="496.32" cy="327.79" r="2.0" fill="#fff" stroke="#000" stroke-width="0.9"/>
<circle cx="514.85" cy="320.64" r="2.0" fill="#fff" stroke="#000" stroke-width="0.9"/>
<circle cx="511.18" cy="321.83" r="2.0" fill="#fff" stroke="#000" stroke-width="0.9"/>
<circle cx="518.52" cy="323.02" r="2.0" fill="#fff" stroke="#000" stroke-width="0.9"/>
<circle cx="514.85" cy="329.78" r="2.0" fill="#fff" stroke="#000" stroke-width="0.9"/>
<circle cx="514.85" cy="335.74" r="2.0" fill="#fff" stroke="#000" stroke-width="0.9"/>
<circle cx="514.85" cy="339.72" r="2.0" fill="#fff" stroke="#000" stroke-width="0.9"/>
<circle cx="529.50" cy="266.16" r="2.0" fill="#fff" stroke="#000" stroke-width="0.9"/>
<circle cx="529.50" cy="282.07" r="2.0" fill="#fff" stroke="#000" stroke-width="0.9"/>
<circle cx="529.50" cy="295.98" r="2.0" fill="#fff" stroke="#000" stroke-width="0.9"/>
<circle cx="529.50" cy="299.96" r="2.0" fill="#fff" stroke="#000" stroke-width="0.9"/>
<circle cx="529.50" cy="311.89" r="2.0" fill="#fff" stroke="#000" stroke-width="0.9"/>
<circle cx="529.50" cy="323.82" r="2.0" fill="#fff" stroke="#000" stroke-width="0.9"/>
<circle cx="544.15" cy="274.12" r="2.0" fill="#fff" stroke="#000" stroke-width="0.9"/>
<circle cx="544.15" cy="292.01" r="2.0" fill="#fff" stroke="#000" stroke-width="0.9"/>
<circle cx="540.48" cy="294.00" r="2.0" fill="#fff" stroke="#000" stroke-width="0.9"/>
<circle cx="544.15" cy="303.94" r="2.0" fill="#fff" stroke="#000" stroke-width="0.9"/>
<circle cx="540.48" cy="305.92" r="2.0" fill="#fff" stroke="#000" stroke-width="0.9"/>
<circle cx="544.15" cy="307.91" r="2.0" fill="#fff" stroke="#000" stroke-width="0.9"/>
<line x1="490.40" y1="260.20" x2="490.40" y2="360.10" stroke="#8a8a8a" stroke-width="1.0"/>
<line x1="489.90" y1="359.60" x2="554.50" y2="359.60" stroke="#8a8a8a" stroke-width="1.0"/>
<line x1="486.80" y1="359.60" x2="490.40" y2="359.60" stroke="#333" stroke-width="0.8"/>
<text x="483.20" y="362.12" font-size="7.0" font-weight="bold" text-anchor="end" fill="#000" stroke="#000" stroke-width="0.3">0.0</text>
<line x1="486.80" y1="339.72" x2="490.40" y2="339.72" stroke="#333" stroke-width="0.8"/>
<text x="483.20" y="342.24" font-size="7.0" font-weight="bold" text-anchor="end" fill="#000" stroke="#000" stroke-width="0.3">0.5</text>
<line x1="486.80" y1="319.84" x2="490.40" y2="319.84" stroke="#333" stroke-width="0.8"/>
<text x="483.20" y="322.36" font-size="7.0" font-weight="bold" text-anchor="end" fill="#000" stroke="#000" stroke-width="0.3">1.0</text>
<line x1="486.80" y1="299.96" x2="490.40" y2="299.96" stroke="#333" stroke-width="0.8"/>
<text x="483.20" y="302.48" font-size="7.0" font-weight="bold" text-anchor="end" fill="#000" stroke="#000" stroke-width="0.3">1.5</text>
<line x1="486.80" y1="280.08" x2="490.40" y2="280.08" stroke="#333" stroke-width="0.8"/>
<text x="483.20" y="282.60" font-size="7.0" font-weight="bold" text-anchor="end" fill="#000" stroke="#000" stroke-width="0.3">2.0</text>
<line x1="486.80" y1="260.20" x2="490.40" y2="260.20" stroke="#333" stroke-width="0.8"/>
<text x="483.20" y="262.72" font-size="7.0" font-weight="bold" text-anchor="end" fill="#000" stroke="#000" stroke-width="0.3">2.5</text>
<line x1="500.00" y1="359.60" x2="500.00" y2="362.90" stroke="#333" stroke-width="0.8"/>
<line x1="514.85" y1="359.60" x2="514.85" y2="362.90" stroke="#333" stroke-width="0.8"/>
<line x1="529.50" y1="359.60" x2="529.50" y2="362.90" stroke="#333" stroke-width="0.8"/>
<line x1="544.15" y1="359.60" x2="544.15" y2="362.90" stroke="#333" stroke-width="0.8"/>
<text x="522.20" y="247.49" font-size="9.7" font-weight="bold" text-anchor="middle" fill="#000">Energy charge</text>
<line x1="528.30" y1="366.90" x2="547.70" y2="366.90" stroke="#333" stroke-width="0.9"/>
<text x="537.50" y="376.70" font-size="7.5" text-anchor="middle" fill="#222" stroke="#222" stroke-width="0.12">+LPS</text>
<text x="450.76" y="309.30" font-size="9.9" font-weight="bold" text-anchor="middle" fill="#000" transform="rotate(-90 450.76 309.30)">[ATP] + 0.5 [ADP]/</text>
<text x="461.99" y="309.70" font-size="9.7" font-weight="bold" text-anchor="middle" fill="#000" transform="rotate(-90 461.99 309.70)">[AMP] + [ADP] + [ATP]</text>
<rect x="626.10" y="316.04" width="9.40" height="43.26" fill="#000"/>
<line x1="630.80" y1="316.04" x2="630.80" y2="304.06" stroke="#000" stroke-width="0.9"/>
<line x1="628.80" y1="304.06" x2="632.80" y2="304.06" stroke="#000" stroke-width="0.9"/>
<rect x="640.40" y="328.69" width="9.60" height="30.61" fill="url(#kc)" stroke="#000" stroke-width="0.9"/>
<line x1="645.20" y1="328.69" x2="645.20" y2="322.70" stroke="#000" stroke-width="0.9"/>
<line x1="643.20" y1="322.70" x2="647.20" y2="322.70" stroke="#000" stroke-width="0.9"/>
<rect x="655.40" y="325.36" width="9.20" height="33.94" fill="#e2392b"/>
<line x1="660.00" y1="325.36" x2="660.00" y2="323.36" stroke="#e2392b" stroke-width="0.9"/>
<line x1="658.00" y1="323.36" x2="662.00" y2="323.36" stroke="#e2392b" stroke-width="0.9"/>
<rect x="670.00" y="318.70" width="10.00" height="40.60" fill="url(#rc)" stroke="#e2392b" stroke-width="0.9"/>
<line x1="675.00" y1="318.70" x2="675.00" y2="310.72" stroke="#e2392b" stroke-width="0.9"/>
<line x1="673.00" y1="310.72" x2="677.00" y2="310.72" stroke="#e2392b" stroke-width="0.9"/>
<circle cx="630.80" cy="269.46" r="2.0" fill="#fff" stroke="#000" stroke-width="0.9"/>
<circle cx="630.80" cy="296.08" r="2.0" fill="#fff" stroke="#000" stroke-width="0.9"/>
<circle cx="630.80" cy="327.36" r="2.0" fill="#fff" stroke="#000" stroke-width="0.9"/>
<circle cx="630.80" cy="331.35" r="2.0" fill="#fff" stroke="#000" stroke-width="0.9"/>
<circle cx="627.12" cy="334.01" r="2.0" fill="#fff" stroke="#000" stroke-width="0.9"/>
<circle cx="630.80" cy="338.00" r="2.0" fill="#fff" stroke="#000" stroke-width="0.9"/>
<circle cx="645.20" cy="314.05" r="2.0" fill="#fff" stroke="#000" stroke-width="0.9"/>
<circle cx="641.53" cy="314.71" r="2.0" fill="#fff" stroke="#000" stroke-width="0.9"/>
<circle cx="648.88" cy="315.38" r="2.0" fill="#fff" stroke="#000" stroke-width="0.9"/>
<circle cx="645.20" cy="339.34" r="2.0" fill="#fff" stroke="#000" stroke-width="0.9"/>
<circle cx="645.20" cy="343.33" r="2.0" fill="#fff" stroke="#000" stroke-width="0.9"/>
<circle cx="641.53" cy="343.33" r="2.0" fill="#fff" stroke="#000" stroke-width="0.9"/>
<circle cx="660.00" cy="307.39" r="2.0" fill="#fff" stroke="#000" stroke-width="0.9"/>
<circle cx="660.00" cy="322.03" r="2.0" fill="#fff" stroke="#000" stroke-width="0.9"/>
<circle cx="660.00" cy="330.68" r="2.0" fill="#fff" stroke="#000" stroke-width="0.9"/>
<circle cx="656.33" cy="330.68" r="2.0" fill="#fff" stroke="#000" stroke-width="0.9"/>
<circle cx="663.67" cy="331.35" r="2.0" fill="#fff" stroke="#000" stroke-width="0.9"/>
<circle cx="660.00" cy="331.35" r="2.0" fill="#fff" stroke="#000" stroke-width="0.9"/>
<circle cx="675.00" cy="287.43" r="2.0" fill="#fff" stroke="#000" stroke-width="0.9"/>
<circle cx="675.00" cy="305.39" r="2.0" fill="#fff" stroke="#000" stroke-width="0.9"/>
<circle cx="675.00" cy="320.04" r="2.0" fill="#fff" stroke="#000" stroke-width="0.9"/>
<circle cx="675.00" cy="331.35" r="2.0" fill="#fff" stroke="#000" stroke-width="0.9"/>
<circle cx="671.33" cy="333.35" r="2.0" fill="#fff" stroke="#000" stroke-width="0.9"/>
<circle cx="675.00" cy="335.34" r="2.0" fill="#fff" stroke="#000" stroke-width="0.9"/>
<line x1="621.00" y1="259.48" x2="621.00" y2="359.80" stroke="#8a8a8a" stroke-width="1.0"/>
<line x1="620.50" y1="359.30" x2="685.00" y2="359.30" stroke="#8a8a8a" stroke-width="1.0"/>
<line x1="617.40" y1="359.30" x2="621.00" y2="359.30" stroke="#333" stroke-width="0.8"/>
<text x="613.80" y="361.82" font-size="7.0" font-weight="bold" text-anchor="end" fill="#000" stroke="#000" stroke-width="0.3">0</text>
<line x1="617.40" y1="326.03" x2="621.00" y2="326.03" stroke="#333" stroke-width="0.8"/>
<text x="613.80" y="328.55" font-size="7.0" font-weight="bold" text-anchor="end" fill="#000" stroke="#000" stroke-width="0.3">5</text>
<line x1="617.40" y1="292.75" x2="621.00" y2="292.75" stroke="#333" stroke-width="0.8"/>
<text x="613.80" y="295.27" font-size="7.0" font-weight="bold" text-anchor="end" fill="#000" stroke="#000" stroke-width="0.3">10</text>
<line x1="617.40" y1="259.48" x2="621.00" y2="259.48" stroke="#333" stroke-width="0.8"/>
<text x="613.80" y="262.00" font-size="7.0" font-weight="bold" text-anchor="end" fill="#000" stroke="#000" stroke-width="0.3">15</text>
<line x1="630.80" y1="359.30" x2="630.80" y2="362.60" stroke="#333" stroke-width="0.8"/>
<line x1="645.20" y1="359.30" x2="645.20" y2="362.60" stroke="#333" stroke-width="0.8"/>
<line x1="660.00" y1="359.30" x2="660.00" y2="362.60" stroke="#333" stroke-width="0.8"/>
<line x1="675.00" y1="359.30" x2="675.00" y2="362.60" stroke="#333" stroke-width="0.8"/>
<text x="653.30" y="247.19" font-size="9.7" font-weight="bold" text-anchor="middle" fill="#000">ATP</text>
<line x1="658.00" y1="368.00" x2="677.40" y2="368.00" stroke="#333" stroke-width="0.9"/>
<text x="667.60" y="378.70" font-size="7.5" text-anchor="middle" fill="#222" stroke="#222" stroke-width="0.12">+LPS</text>
<text x="585.96" y="309.30" font-size="9.6" font-weight="bold" text-anchor="middle" fill="#000" transform="rotate(-90 585.96 309.30)">Cellular ATP</text>
<text x="598.16" y="309.30" font-size="9.6" font-weight="bold" text-anchor="middle" fill="#000" transform="rotate(-90 598.16 309.30)">concentration (&#181;M)</text>
<line x1="61.40" y1="479.20" x2="61.40" y2="579.10" stroke="#999" stroke-width="0.8"/>
<line x1="80.50" y1="479.20" x2="80.50" y2="579.10" stroke="#999" stroke-width="0.8"/>
<line x1="100.30" y1="479.20" x2="100.30" y2="579.10" stroke="#999" stroke-width="0.8"/>
<line x1="119.80" y1="479.20" x2="119.80" y2="579.10" stroke="#999" stroke-width="0.8"/>
<text x="63.90" y="477.80" font-size="8.2" fill="#222" stroke="#222" stroke-width="0.1" transform="rotate(90 63.90 477.80)">Glucose</text>
<text x="83.90" y="478.00" font-size="8.2" fill="#222" stroke="#222" stroke-width="0.1" transform="rotate(90 83.90 478.00)">Oligomycin</text>
<text x="102.90" y="479.40" font-size="8.2" fill="#222" stroke="#222" stroke-width="0.1" transform="rotate(90 102.90 479.40)">FCCP</text>
<text x="123.00" y="478.20" font-size="8.2" fill="#222" stroke="#222" stroke-width="0.1" transform="rotate(90 123.00 478.20)">/Rotenone</text>
<text x="132.80" y="478.20" font-size="8.2" fill="#222" stroke="#222" stroke-width="0.1" transform="rotate(90 132.80 478.20)">Antimycin A</text>
<path d="M44.90,548.30 L51.20,549.46 L57.90,549.46 L64.50,553.79 L71.10,556.12 L77.40,556.62 L84.20,569.11 L90.80,570.11 L97.20,570.11 L103.50,558.29 L110.40,558.79 L117.10,559.95 L137.50,574.77 L158.00,575.77 L178.70,576.10" fill="none" stroke="#e2392b" stroke-width="0.8" stroke-dasharray="2.2,1.2"/>
<path d="M44.90,544.13 L44.90,552.46 M43.60,544.13 L46.20,544.13 M43.60,552.46 L46.20,552.46" stroke="#e2392b" stroke-width="0.6" fill="none"/>
<path d="M51.20,545.30 L51.20,553.63 M49.90,545.30 L52.50,545.30 M49.90,553.63 L52.50,553.63" stroke="#e2392b" stroke-width="0.6" fill="none"/>
<path d="M57.90,545.30 L57.90,553.63 M56.60,545.30 L59.20,545.30 M56.60,553.63 L59.20,553.63" stroke="#e2392b" stroke-width="0.6" fill="none"/>
<path d="M64.50,550.46 L64.50,557.12 M63.20,550.46 L65.80,550.46 M63.20,557.12 L65.80,557.12" stroke="#e2392b" stroke-width="0.6" fill="none"/>
<path d="M71.10,553.13 L71.10,559.12 M69.80,553.13 L72.40,553.13 M69.80,559.12 L72.40,559.12" stroke="#e2392b" stroke-width="0.6" fill="none"/>
<path d="M77.40,553.63 L77.40,559.62 M76.10,553.63 L78.70,553.63 M76.10,559.62 L78.70,559.62" stroke="#e2392b" stroke-width="0.6" fill="none"/>
<path d="M84.20,568.11 L84.20,570.11 M82.90,568.11 L85.50,568.11 M82.90,570.11 L85.50,570.11" stroke="#e2392b" stroke-width="0.6" fill="none"/>
<path d="M90.80,569.28 L90.80,570.94 M89.50,569.28 L92.10,569.28 M89.50,570.94 L92.10,570.94" stroke="#e2392b" stroke-width="0.6" fill="none"/>
<path d="M97.20,569.28 L97.20,570.94 M95.90,569.28 L98.50,569.28 M95.90,570.94 L98.50,570.94" stroke="#e2392b" stroke-width="0.6" fill="none"/>
<path d="M103.50,556.29 L103.50,560.29 M102.20,556.29 L104.80,556.29 M102.20,560.29 L104.80,560.29" stroke="#e2392b" stroke-width="0.6" fill="none"/>
<path d="M110.40,557.12 L110.40,560.45 M109.10,557.12 L111.70,557.12 M109.10,560.45 L111.70,560.45" stroke="#e2392b" stroke-width="0.6" fill="none"/>
<path d="M117.10,558.29 L117.10,561.62 M115.80,558.29 L118.40,558.29 M115.80,561.62 L118.40,561.62" stroke="#e2392b" stroke-width="0.6" fill="none"/>
<path d="M137.50,574.11 L137.50,575.44 M136.20,574.11 L138.80,574.11 M136.20,575.44 L138.80,575.44" stroke="#e2392b" stroke-width="0.6" fill="none"/>
<path d="M44.90,546.50 L46.70,548.30 L44.90,550.10 L43.10,548.30 z" fill="#fff" stroke="#e2392b" stroke-width="0.7"/>
<path d="M51.20,547.66 L53.00,549.46 L51.20,551.26 L49.40,549.46 z" fill="#fff" stroke="#e2392b" stroke-width="0.7"/>
<path d="M57.90,547.66 L59.70,549.46 L57.90,551.26 L56.10,549.46 z" fill="#fff" stroke="#e2392b" stroke-width="0.7"/>
<path d="M64.50,551.99 L66.30,553.79 L64.50,555.59 L62.70,553.79 z" fill="#fff" stroke="#e2392b" stroke-width="0.7"/>
<path d="M71.10,554.32 L72.90,556.12 L71.10,557.92 L69.30,556.12 z" fill="#fff" stroke="#e2392b" stroke-width="0.7"/>
<path d="M77.40,554.82 L79.20,556.62 L77.40,558.42 L75.60,556.62 z" fill="#fff" stroke="#e2392b" stroke-width="0.7"/>
<path d="M84.20,567.31 L86.00,569.11 L84.20,570.91 L82.40,569.11 z" fill="#fff" stroke="#e2392b" stroke-width="0.7"/>
<path d="M90.80,568.31 L92.60,570.11 L90.80,571.91 L89.00,570.11 z" fill="#fff" stroke="#e2392b" stroke-width="0.7"/>
<path d="M97.20,568.31 L99.00,570.11 L97.20,571.91 L95.40,570.11 z" fill="#fff" stroke="#e2392b" stroke-width="0.7"/>
<path d="M103.50,556.49 L105.30,558.29 L103.50,560.09 L101.70,558.29 z" fill="#fff" stroke="#e2392b" stroke-width="0.7"/>
<path d="M110.40,556.99 L112.20,558.79 L110.40,560.59 L108.60,558.79 z" fill="#fff" stroke="#e2392b" stroke-width="0.7"/>
<path d="M117.10,558.15 L118.90,559.95 L117.10,561.75 L115.30,559.95 z" fill="#fff" stroke="#e2392b" stroke-width="0.7"/>
<path d="M137.50,572.97 L139.30,574.77 L137.50,576.57 L135.70,574.77 z" fill="#fff" stroke="#e2392b" stroke-width="0.7"/>
<path d="M158.00,573.97 L159.80,575.77 L158.00,577.57 L156.20,575.77 z" fill="#fff" stroke="#e2392b" stroke-width="0.7"/>
<path d="M178.70,574.30 L180.50,576.10 L178.70,577.90 L176.90,576.10 z" fill="#fff" stroke="#e2392b" stroke-width="0.7"/>
<path d="M44.90,545.47 L51.20,546.97 L57.90,546.97 L64.50,551.29 L71.10,554.12 L77.40,554.62 L84.20,568.61 L90.80,569.78 L97.20,569.78 L103.50,554.79 L110.40,555.96 L117.10,557.12 L137.50,574.44 L158.00,575.44 L178.70,575.77" fill="none" stroke="#e2392b" stroke-width="0.8"/>
<path d="M44.90,541.30 L44.90,549.63 M43.60,541.30 L46.20,541.30 M43.60,549.63 L46.20,549.63" stroke="#e2392b" stroke-width="0.6" fill="none"/>
<path d="M51.20,542.80 L51.20,551.13 M49.90,542.80 L52.50,542.80 M49.90,551.13 L52.50,551.13" stroke="#e2392b" stroke-width="0.6" fill="none"/>
<path d="M57.90,542.80 L57.90,551.13 M56.60,542.80 L59.20,542.80 M56.60,551.13 L59.20,551.13" stroke="#e2392b" stroke-width="0.6" fill="none"/>
<path d="M64.50,547.96 L64.50,554.62 M63.20,547.96 L65.80,547.96 M63.20,554.62 L65.80,554.62" stroke="#e2392b" stroke-width="0.6" fill="none"/>
<path d="M71.10,551.63 L71.10,556.62 M69.80,551.63 L72.40,551.63 M69.80,556.62 L72.40,556.62" stroke="#e2392b" stroke-width="0.6" fill="none"/>
<path d="M77.40,552.13 L77.40,557.12 M76.10,552.13 L78.70,552.13 M76.10,557.12 L78.70,557.12" stroke="#e2392b" stroke-width="0.6" fill="none"/>
<path d="M84.20,567.61 L84.20,569.61 M82.90,567.61 L85.50,567.61 M82.90,569.61 L85.50,569.61" stroke="#e2392b" stroke-width="0.6" fill="none"/>
<path d="M90.80,568.94 L90.80,570.61 M89.50,568.94 L92.10,568.94 M89.50,570.61 L92.10,570.61" stroke="#e2392b" stroke-width="0.6" fill="none"/>
<path d="M97.20,568.94 L97.20,570.61 M95.90,568.94 L98.50,568.94 M95.90,570.61 L98.50,570.61" stroke="#e2392b" stroke-width="0.6" fill="none"/>
<path d="M103.50,552.79 L103.50,556.79 M102.20,552.79 L104.80,552.79 M102.20,556.79 L104.80,556.79" stroke="#e2392b" stroke-width="0.6" fill="none"/>
<path d="M110.40,554.29 L110.40,557.62 M109.10,554.29 L111.70,554.29 M109.10,557.62 L111.70,557.62" stroke="#e2392b" stroke-width="0.6" fill="none"/>
<path d="M117.10,555.46 L117.10,558.79 M115.80,555.46 L118.40,555.46 M115.80,558.79 L118.40,558.79" stroke="#e2392b" stroke-width="0.6" fill="none"/>
<path d="M137.50,573.77 L137.50,575.10 M136.20,573.77 L138.80,573.77 M136.20,575.10 L138.80,575.10" stroke="#e2392b" stroke-width="0.6" fill="none"/>
<path d="M44.90,542.95 L47.30,547.39 L42.50,547.39 z" fill="#e2392b"/>
<path d="M51.20,544.45 L53.60,548.89 L48.80,548.89 z" fill="#e2392b"/>
<path d="M57.90,544.45 L60.30,548.89 L55.50,548.89 z" fill="#e2392b"/>
<path d="M64.50,548.77 L66.90,553.21 L62.10,553.21 z" fill="#e2392b"/>
<path d="M71.10,551.61 L73.50,556.04 L68.70,556.04 z" fill="#e2392b"/>
<path d="M77.40,552.10 L79.80,556.54 L75.00,556.54 z" fill="#e2392b"/>
<path d="M84.20,566.09 L86.60,570.53 L81.80,570.53 z" fill="#e2392b"/>
<path d="M90.80,567.26 L93.20,571.70 L88.40,571.70 z" fill="#e2392b"/>
<path d="M97.20,567.26 L99.60,571.70 L94.80,571.70 z" fill="#e2392b"/>
<path d="M103.50,552.27 L105.90,556.71 L101.10,556.71 z" fill="#e2392b"/>
<path d="M110.40,553.44 L112.80,557.88 L108.00,557.88 z" fill="#e2392b"/>
<path d="M117.10,554.60 L119.50,559.04 L114.70,559.04 z" fill="#e2392b"/>
<path d="M137.50,571.92 L139.90,576.36 L135.10,576.36 z" fill="#e2392b"/>
<path d="M158.00,572.92 L160.40,577.36 L155.60,577.36 z" fill="#e2392b"/>
<path d="M178.70,573.25 L181.10,577.69 L176.30,577.69 z" fill="#e2392b"/>
<path d="M44.90,536.14 L51.20,539.97 L57.90,541.64 L64.50,544.97 L71.10,545.80 L77.40,545.80 L84.20,565.78 L90.80,566.45 L97.20,566.45 L103.50,507.17 L110.40,507.84 L117.10,509.17 L137.50,570.77 L158.00,572.77 L178.70,573.77" fill="none" stroke="#000" stroke-width="0.8" stroke-dasharray="1.2,1.0"/>
<path d="M44.90,533.15 L44.90,539.14 M43.60,533.15 L46.20,533.15 M43.60,539.14 L46.20,539.14" stroke="#000" stroke-width="0.6" fill="none"/>
<path d="M51.20,537.97 L51.20,541.97 M49.90,537.97 L52.50,537.97 M49.90,541.97 L52.50,541.97" stroke="#000" stroke-width="0.6" fill="none"/>
<path d="M57.90,539.64 L57.90,543.64 M56.60,539.64 L59.20,539.64 M56.60,543.64 L59.20,543.64" stroke="#000" stroke-width="0.6" fill="none"/>
<path d="M64.50,543.30 L64.50,546.63 M63.20,543.30 L65.80,543.30 M63.20,546.63 L65.80,546.63" stroke="#000" stroke-width="0.6" fill="none"/>
<path d="M71.10,544.47 L71.10,547.13 M69.80,544.47 L72.40,544.47 M69.80,547.13 L72.40,547.13" stroke="#000" stroke-width="0.6" fill="none"/>
<path d="M77.40,544.47 L77.40,547.13 M76.10,544.47 L78.70,544.47 M76.10,547.13 L78.70,547.13" stroke="#000" stroke-width="0.6" fill="none"/>
<path d="M84.20,564.78 L84.20,566.78 M82.90,564.78 L85.50,564.78 M82.90,566.78 L85.50,566.78" stroke="#000" stroke-width="0.6" fill="none"/>
<path d="M90.80,565.61 L90.80,567.28 M89.50,565.61 L92.10,565.61 M89.50,567.28 L92.10,567.28" stroke="#000" stroke-width="0.6" fill="none"/>
<path d="M97.20,565.61 L97.20,567.28 M95.90,565.61 L98.50,565.61 M95.90,567.28 L98.50,567.28" stroke="#000" stroke-width="0.6" fill="none"/>
<path d="M103.50,502.18 L103.50,512.17 M102.20,502.18 L104.80,502.18 M102.20,512.17 L104.80,512.17" stroke="#000" stroke-width="0.6" fill="none"/>
<path d="M110.40,503.68 L110.40,512.00 M109.10,503.68 L111.70,503.68 M109.10,512.00 L111.70,512.00" stroke="#000" stroke-width="0.6" fill="none"/>
<path d="M117.10,505.01 L117.10,513.33 M115.80,505.01 L118.40,505.01 M115.80,513.33 L118.40,513.33" stroke="#000" stroke-width="0.6" fill="none"/>
<path d="M137.50,569.94 L137.50,571.61 M136.20,569.94 L138.80,569.94 M136.20,571.61 L138.80,571.61" stroke="#000" stroke-width="0.6" fill="none"/>
<path d="M158.00,572.11 L158.00,573.44 M156.70,572.11 L159.30,572.11 M156.70,573.44 L159.30,573.44" stroke="#000" stroke-width="0.6" fill="none"/>
<path d="M178.70,573.11 L178.70,574.44 M177.40,573.11 L180.00,573.11 M177.40,574.44 L180.00,574.44" stroke="#000" stroke-width="0.6" fill="none"/>
<path d="M44.90,534.34 L46.70,536.14 L44.90,537.94 L43.10,536.14 z" fill="#fff" stroke="#000" stroke-width="0.7"/>
<path d="M51.20,538.17 L53.00,539.97 L51.20,541.77 L49.40,539.97 z" fill="#fff" stroke="#000" stroke-width="0.7"/>
<path d="M57.90,539.84 L59.70,541.64 L57.90,543.44 L56.10,541.64 z" fill="#fff" stroke="#000" stroke-width="0.7"/>
<path d="M64.50,543.17 L66.30,544.97 L64.50,546.77 L62.70,544.97 z" fill="#fff" stroke="#000" stroke-width="0.7"/>
<path d="M71.10,544.00 L72.90,545.80 L71.10,547.60 L69.30,545.80 z" fill="#fff" stroke="#000" stroke-width="0.7"/>
<path d="M77.40,544.00 L79.20,545.80 L77.40,547.60 L75.60,545.80 z" fill="#fff" stroke="#000" stroke-width="0.7"/>
<path d="M84.20,563.98 L86.00,565.78 L84.20,567.58 L82.40,565.78 z" fill="#fff" stroke="#000" stroke-width="0.7"/>
<path d="M90.80,564.65 L92.60,566.45 L90.80,568.25 L89.00,566.45 z" fill="#fff" stroke="#000" stroke-width="0.7"/>
<path d="M97.20,564.65 L99.00,566.45 L97.20,568.25 L95.40,566.45 z" fill="#fff" stroke="#000" stroke-width="0.7"/>
<path d="M103.50,505.37 L105.30,507.17 L103.50,508.97 L101.70,507.17 z" fill="#fff" stroke="#000" stroke-width="0.7"/>
<path d="M110.40,506.04 L112.20,507.84 L110.40,509.64 L108.60,507.84 z" fill="#fff" stroke="#000" stroke-width="0.7"/>
<path d="M117.10,507.37 L118.90,509.17 L117.10,510.97 L115.30,509.17 z" fill="#fff" stroke="#000" stroke-width="0.7"/>
<path d="M137.50,568.98 L139.30,570.77 L137.50,572.57 L135.70,570.77 z" fill="#fff" stroke="#000" stroke-width="0.7"/>
<path d="M158.00,570.97 L159.80,572.77 L158.00,574.57 L156.20,572.77 z" fill="#fff" stroke="#000" stroke-width="0.7"/>
<path d="M178.70,571.97 L180.50,573.77 L178.70,575.57 L176.90,573.77 z" fill="#fff" stroke="#000" stroke-width="0.7"/>
<path d="M44.90,534.48 L51.20,539.14 L57.90,540.64 L64.50,544.63 L71.10,545.80 L77.40,546.13 L84.20,565.45 L90.80,566.11 L97.20,566.11 L103.50,504.01 L110.40,507.84 L117.10,508.67 L137.50,569.94 L158.00,572.61 L178.70,574.11" fill="none" stroke="#000" stroke-width="0.8"/>
<path d="M44.90,531.15 L44.90,537.81 M43.60,531.15 L46.20,531.15 M43.60,537.81 L46.20,537.81" stroke="#000" stroke-width="0.6" fill="none"/>
<path d="M51.20,537.14 L51.20,541.14 M49.90,537.14 L52.50,537.14 M49.90,541.14 L52.50,541.14" stroke="#000" stroke-width="0.6" fill="none"/>
<path d="M57.90,538.64 L57.90,542.64 M56.60,538.64 L59.20,538.64 M56.60,542.64 L59.20,542.64" stroke="#000" stroke-width="0.6" fill="none"/>
<path d="M64.50,542.97 L64.50,546.30 M63.20,542.97 L65.80,542.97 M63.20,546.30 L65.80,546.30" stroke="#000" stroke-width="0.6" fill="none"/>
<path d="M71.10,544.47 L71.10,547.13 M69.80,544.47 L72.40,544.47 M69.80,547.13 L72.40,547.13" stroke="#000" stroke-width="0.6" fill="none"/>
<path d="M77.40,544.80 L77.40,547.47 M76.10,544.80 L78.70,544.80 M76.10,547.47 L78.70,547.47" stroke="#000" stroke-width="0.6" fill="none"/>
<path d="M84.20,564.45 L84.20,566.45 M82.90,564.45 L85.50,564.45 M82.90,566.45 L85.50,566.45" stroke="#000" stroke-width="0.6" fill="none"/>
<path d="M90.80,565.28 L90.80,566.95 M89.50,565.28 L92.10,565.28 M89.50,566.95 L92.10,566.95" stroke="#000" stroke-width="0.6" fill="none"/>
<path d="M97.20,565.28 L97.20,566.95 M95.90,565.28 L98.50,565.28 M95.90,566.95 L98.50,566.95" stroke="#000" stroke-width="0.6" fill="none"/>
<path d="M103.50,499.85 L103.50,508.17 M102.20,499.85 L104.80,499.85 M102.20,508.17 L104.80,508.17" stroke="#000" stroke-width="0.6" fill="none"/>
<path d="M110.40,505.34 L110.40,510.34 M109.10,505.34 L111.70,505.34 M109.10,510.34 L111.70,510.34" stroke="#000" stroke-width="0.6" fill="none"/>
<path d="M117.10,506.17 L117.10,511.17 M115.80,506.17 L118.40,506.17 M115.80,511.17 L118.40,511.17" stroke="#000" stroke-width="0.6" fill="none"/>
<path d="M137.50,569.11 L137.50,570.77 M136.20,569.11 L138.80,569.11 M136.20,570.77 L138.80,570.77" stroke="#000" stroke-width="0.6" fill="none"/>
<path d="M158.00,571.94 L158.00,573.27 M156.70,571.94 L159.30,571.94 M156.70,573.27 L159.30,573.27" stroke="#000" stroke-width="0.6" fill="none"/>
<path d="M178.70,573.44 L178.70,574.77 M177.40,573.44 L180.00,573.44 M177.40,574.77 L180.00,574.77" stroke="#000" stroke-width="0.6" fill="none"/>
<path d="M44.90,531.96 L47.30,536.40 L42.50,536.40 z" fill="#000"/>
<path d="M51.20,536.62 L53.60,541.06 L48.80,541.06 z" fill="#000"/>
<path d="M57.90,538.12 L60.30,542.56 L55.50,542.56 z" fill="#000"/>
<path d="M64.50,542.11 L66.90,546.55 L62.10,546.55 z" fill="#000"/>
<path d="M71.10,543.28 L73.50,547.72 L68.70,547.72 z" fill="#000"/>
<path d="M77.40,543.61 L79.80,548.05 L75.00,548.05 z" fill="#000"/>
<path d="M84.20,562.93 L86.60,567.37 L81.80,567.37 z" fill="#000"/>
<path d="M90.80,563.59 L93.20,568.03 L88.40,568.03 z" fill="#000"/>
<path d="M97.20,563.59 L99.60,568.03 L94.80,568.03 z" fill="#000"/>
<path d="M103.50,501.49 L105.90,505.93 L101.10,505.93 z" fill="#000"/>
<path d="M110.40,505.32 L112.80,509.76 L108.00,509.76 z" fill="#000"/>
<path d="M117.10,506.15 L119.50,510.59 L114.70,510.59 z" fill="#000"/>
<path d="M137.50,567.42 L139.90,571.86 L135.10,571.86 z" fill="#000"/>
<path d="M158.00,570.09 L160.40,574.53 L155.60,574.53 z" fill="#000"/>
<path d="M178.70,571.59 L181.10,576.02 L176.30,576.02 z" fill="#000"/>
<line x1="43.30" y1="479.20" x2="43.30" y2="579.70" stroke="#000" stroke-width="1.1"/>
<line x1="42.80" y1="579.10" x2="193.60" y2="579.10" stroke="#000" stroke-width="1.1"/>
<line x1="39.80" y1="579.10" x2="43.30" y2="579.10" stroke="#000" stroke-width="1.0"/>
<text x="36.70" y="581.70" font-size="7.2" font-weight="bold" text-anchor="end" fill="#000" stroke="#000" stroke-width="0.15">0</text>
<line x1="39.80" y1="545.80" x2="43.30" y2="545.80" stroke="#000" stroke-width="1.0"/>
<text x="36.70" y="548.40" font-size="7.2" font-weight="bold" text-anchor="end" fill="#000" stroke="#000" stroke-width="0.15">200</text>
<line x1="39.80" y1="512.50" x2="43.30" y2="512.50" stroke="#000" stroke-width="1.0"/>
<text x="36.70" y="515.10" font-size="7.2" font-weight="bold" text-anchor="end" fill="#000" stroke="#000" stroke-width="0.15">400</text>
<line x1="39.80" y1="479.20" x2="43.30" y2="479.20" stroke="#000" stroke-width="1.0"/>
<text x="36.70" y="481.80" font-size="7.2" font-weight="bold" text-anchor="end" fill="#000" stroke="#000" stroke-width="0.15">600</text>
<line x1="43.30" y1="579.10" x2="43.30" y2="582.60" stroke="#000" stroke-width="1.0"/>
<text x="43.30" y="591.10" font-size="7.6" font-weight="bold" text-anchor="middle" fill="#000">0</text>
<line x1="93.30" y1="579.10" x2="93.30" y2="582.60" stroke="#000" stroke-width="1.0"/>
<text x="93.30" y="591.10" font-size="7.6" font-weight="bold" text-anchor="middle" fill="#000">50</text>
<line x1="143.30" y1="579.10" x2="143.30" y2="582.60" stroke="#000" stroke-width="1.0"/>
<text x="143.30" y="591.10" font-size="7.6" font-weight="bold" text-anchor="middle" fill="#000">100</text>
<line x1="193.30" y1="579.10" x2="193.30" y2="582.60" stroke="#000" stroke-width="1.0"/>
<text x="193.30" y="591.10" font-size="7.6" font-weight="bold" text-anchor="middle" fill="#000">150</text>
<text x="118.20" y="605.40" font-size="8.4" font-weight="bold" text-anchor="middle" fill="#000">Time (min)</text>
<text x="14.05" y="529.15" font-size="8.2" font-weight="bold" text-anchor="middle" fill="#000" transform="rotate(-90 14.05 529.15)">OCR (pmol/min)</text>
<line x1="61.40" y1="635.50" x2="61.40" y2="735.20" stroke="#999" stroke-width="0.8"/>
<line x1="80.50" y1="635.50" x2="80.50" y2="735.20" stroke="#999" stroke-width="0.8"/>
<line x1="100.30" y1="635.50" x2="100.30" y2="735.20" stroke="#999" stroke-width="0.8"/>
<line x1="119.80" y1="635.50" x2="119.80" y2="735.20" stroke="#999" stroke-width="0.8"/>
<text x="63.70" y="633.80" font-size="8.2" fill="#222" stroke="#222" stroke-width="0.1" transform="rotate(90 63.70 633.80)">Glucose</text>
<text x="83.60" y="634.00" font-size="8.2" fill="#222" stroke="#222" stroke-width="0.1" transform="rotate(90 83.60 634.00)">OM</text>
<text x="102.70" y="634.00" font-size="8.2" fill="#222" stroke="#222" stroke-width="0.1" transform="rotate(90 102.70 634.00)">FCCP</text>
<text x="122.00" y="634.00" font-size="8.2" fill="#222" stroke="#222" stroke-width="0.1" transform="rotate(90 122.00 634.00)">AM/rot</text>
<path d="M44.90,725.89 L51.20,726.56 L57.90,726.56 L64.50,709.94 L71.10,704.63 L77.40,701.97 L84.20,677.37 L90.80,676.71 L97.20,678.04 L103.50,682.03 L110.40,680.70 L117.10,680.70 L137.50,676.71 L158.00,675.38 L178.70,675.38" fill="none" stroke="#e2392b" stroke-width="0.8" stroke-dasharray="2.2,1.2"/>
<path d="M44.90,724.57 L44.90,727.22 M43.60,724.57 L46.20,724.57 M43.60,727.22 L46.20,727.22" stroke="#e2392b" stroke-width="0.6" fill="none"/>
<path d="M51.20,725.23 L51.20,727.89 M49.90,725.23 L52.50,725.23 M49.90,727.89 L52.50,727.89" stroke="#e2392b" stroke-width="0.6" fill="none"/>
<path d="M57.90,725.23 L57.90,727.89 M56.60,725.23 L59.20,725.23 M56.60,727.89 L59.20,727.89" stroke="#e2392b" stroke-width="0.6" fill="none"/>
<path d="M64.50,707.28 L64.50,712.60 M63.20,707.28 L65.80,707.28 M63.20,712.60 L65.80,712.60" stroke="#e2392b" stroke-width="0.6" fill="none"/>
<path d="M71.10,701.97 L71.10,707.28 M69.80,701.97 L72.40,701.97 M69.80,707.28 L72.40,707.28" stroke="#e2392b" stroke-width="0.6" fill="none"/>
<path d="M77.40,699.31 L77.40,704.63 M76.10,699.31 L78.70,699.31 M76.10,704.63 L78.70,704.63" stroke="#e2392b" stroke-width="0.6" fill="none"/>
<path d="M84.20,672.72 L84.20,682.03 M82.90,672.72 L85.50,672.72 M82.90,682.03 L85.50,682.03" stroke="#e2392b" stroke-width="0.6" fill="none"/>
<path d="M90.80,671.39 L90.80,682.03 M89.50,671.39 L92.10,671.39 M89.50,682.03 L92.10,682.03" stroke="#e2392b" stroke-width="0.6" fill="none"/>
<path d="M97.20,673.39 L97.20,682.69 M95.90,673.39 L98.50,673.39 M95.90,682.69 L98.50,682.69" stroke="#e2392b" stroke-width="0.6" fill="none"/>
<path d="M103.50,678.04 L103.50,686.01 M102.20,678.04 L104.80,678.04 M102.20,686.01 L104.80,686.01" stroke="#e2392b" stroke-width="0.6" fill="none"/>
<path d="M110.40,676.71 L110.40,684.69 M109.10,676.71 L111.70,676.71 M109.10,684.69 L111.70,684.69" stroke="#e2392b" stroke-width="0.6" fill="none"/>
<path d="M117.10,676.71 L117.10,684.69 M115.80,676.71 L118.40,676.71 M115.80,684.69 L118.40,684.69" stroke="#e2392b" stroke-width="0.6" fill="none"/>
<path d="M137.50,671.39 L137.50,682.03 M136.20,671.39 L138.80,671.39 M136.20,682.03 L138.80,682.03" stroke="#e2392b" stroke-width="0.6" fill="none"/>
<path d="M158.00,670.73 L158.00,680.03 M156.70,670.73 L159.30,670.73 M156.70,680.03 L159.30,680.03" stroke="#e2392b" stroke-width="0.6" fill="none"/>
<path d="M178.70,670.73 L178.70,680.03 M177.40,670.73 L180.00,670.73 M177.40,680.03 L180.00,680.03" stroke="#e2392b" stroke-width="0.6" fill="none"/>
<path d="M44.90,724.09 L46.70,725.89 L44.90,727.69 L43.10,725.89 z" fill="#fff" stroke="#e2392b" stroke-width="0.7"/>
<path d="M51.20,724.76 L53.00,726.56 L51.20,728.36 L49.40,726.56 z" fill="#fff" stroke="#e2392b" stroke-width="0.7"/>
<path d="M57.90,724.76 L59.70,726.56 L57.90,728.36 L56.10,726.56 z" fill="#fff" stroke="#e2392b" stroke-width="0.7"/>
<path d="M64.50,708.14 L66.30,709.94 L64.50,711.74 L62.70,709.94 z" fill="#fff" stroke="#e2392b" stroke-width="0.7"/>
<path d="M71.10,702.83 L72.90,704.63 L71.10,706.43 L69.30,704.63 z" fill="#fff" stroke="#e2392b" stroke-width="0.7"/>
<path d="M77.40,700.17 L79.20,701.97 L77.40,703.77 L75.60,701.97 z" fill="#fff" stroke="#e2392b" stroke-width="0.7"/>
<path d="M84.20,675.57 L86.00,677.37 L84.20,679.17 L82.40,677.37 z" fill="#fff" stroke="#e2392b" stroke-width="0.7"/>
<path d="M90.80,674.91 L92.60,676.71 L90.80,678.51 L89.00,676.71 z" fill="#fff" stroke="#e2392b" stroke-width="0.7"/>
<path d="M97.20,676.24 L99.00,678.04 L97.20,679.84 L95.40,678.04 z" fill="#fff" stroke="#e2392b" stroke-width="0.7"/>
<path d="M103.50,680.23 L105.30,682.03 L103.50,683.83 L101.70,682.03 z" fill="#fff" stroke="#e2392b" stroke-width="0.7"/>
<path d="M110.40,678.90 L112.20,680.70 L110.40,682.50 L108.60,680.70 z" fill="#fff" stroke="#e2392b" stroke-width="0.7"/>
<path d="M117.10,678.90 L118.90,680.70 L117.10,682.50 L115.30,680.70 z" fill="#fff" stroke="#e2392b" stroke-width="0.7"/>
<path d="M137.50,674.91 L139.30,676.71 L137.50,678.51 L135.70,676.71 z" fill="#fff" stroke="#e2392b" stroke-width="0.7"/>
<path d="M158.00,673.58 L159.80,675.38 L158.00,677.18 L156.20,675.38 z" fill="#fff" stroke="#e2392b" stroke-width="0.7"/>
<path d="M178.70,673.58 L180.50,675.38 L178.70,677.18 L176.90,675.38 z" fill="#fff" stroke="#e2392b" stroke-width="0.7"/>
<path d="M44.90,725.89 L51.20,726.56 L57.90,726.56 L64.50,708.61 L71.10,703.96 L77.40,699.97 L84.20,676.04 L90.80,675.05 L97.20,676.04 L103.50,680.37 L110.40,678.70 L117.10,679.04 L137.50,674.38 L158.00,673.05 L178.70,673.72" fill="none" stroke="#e2392b" stroke-width="0.8"/>
<path d="M44.90,724.57 L44.90,727.22 M43.60,724.57 L46.20,724.57 M43.60,727.22 L46.20,727.22" stroke="#e2392b" stroke-width="0.6" fill="none"/>
<path d="M51.20,725.23 L51.20,727.89 M49.90,725.23 L52.50,725.23 M49.90,727.89 L52.50,727.89" stroke="#e2392b" stroke-width="0.6" fill="none"/>
<path d="M57.90,725.23 L57.90,727.89 M56.60,725.23 L59.20,725.23 M56.60,727.89 L59.20,727.89" stroke="#e2392b" stroke-width="0.6" fill="none"/>
<path d="M64.50,705.95 L64.50,711.27 M63.20,705.95 L65.80,705.95 M63.20,711.27 L65.80,711.27" stroke="#e2392b" stroke-width="0.6" fill="none"/>
<path d="M71.10,701.30 L71.10,706.62 M69.80,701.30 L72.40,701.30 M69.80,706.62 L72.40,706.62" stroke="#e2392b" stroke-width="0.6" fill="none"/>
<path d="M77.40,697.31 L77.40,702.63 M76.10,697.31 L78.70,697.31 M76.10,702.63 L78.70,702.63" stroke="#e2392b" stroke-width="0.6" fill="none"/>
<path d="M84.20,671.39 L84.20,680.70 M82.90,671.39 L85.50,671.39 M82.90,680.70 L85.50,680.70" stroke="#e2392b" stroke-width="0.6" fill="none"/>
<path d="M90.80,669.73 L90.80,680.37 M89.50,669.73 L92.10,669.73 M89.50,680.37 L92.10,680.37" stroke="#e2392b" stroke-width="0.6" fill="none"/>
<path d="M97.20,671.39 L97.20,680.70 M95.90,671.39 L98.50,671.39 M95.90,680.70 L98.50,680.70" stroke="#e2392b" stroke-width="0.6" fill="none"/>
<path d="M103.50,676.38 L103.50,684.35 M102.20,676.38 L104.80,676.38 M102.20,684.35 L104.80,684.35" stroke="#e2392b" stroke-width="0.6" fill="none"/>
<path d="M110.40,674.72 L110.40,682.69 M109.10,674.72 L111.70,674.72 M109.10,682.69 L111.70,682.69" stroke="#e2392b" stroke-width="0.6" fill="none"/>
<path d="M117.10,675.05 L117.10,683.02 M115.80,675.05 L118.40,675.05 M115.80,683.02 L118.40,683.02" stroke="#e2392b" stroke-width="0.6" fill="none"/>
<path d="M137.50,669.07 L137.50,679.70 M136.20,669.07 L138.80,669.07 M136.20,679.70 L138.80,679.70" stroke="#e2392b" stroke-width="0.6" fill="none"/>
<path d="M158.00,668.40 L158.00,677.71 M156.70,668.40 L159.30,668.40 M156.70,677.71 L159.30,677.71" stroke="#e2392b" stroke-width="0.6" fill="none"/>
<path d="M178.70,669.07 L178.70,678.37 M177.40,669.07 L180.00,669.07 M177.40,678.37 L180.00,678.37" stroke="#e2392b" stroke-width="0.6" fill="none"/>
<path d="M44.90,723.37 L47.30,727.81 L42.50,727.81 z" fill="#e2392b"/>
<path d="M51.20,724.04 L53.60,728.48 L48.80,728.48 z" fill="#e2392b"/>
<path d="M57.90,724.04 L60.30,728.48 L55.50,728.48 z" fill="#e2392b"/>
<path d="M64.50,706.09 L66.90,710.53 L62.10,710.53 z" fill="#e2392b"/>
<path d="M71.10,701.44 L73.50,705.88 L68.70,705.88 z" fill="#e2392b"/>
<path d="M77.40,697.45 L79.80,701.89 L75.00,701.89 z" fill="#e2392b"/>
<path d="M84.20,673.52 L86.60,677.96 L81.80,677.96 z" fill="#e2392b"/>
<path d="M90.80,672.53 L93.20,676.97 L88.40,676.97 z" fill="#e2392b"/>
<path d="M97.20,673.52 L99.60,677.96 L94.80,677.96 z" fill="#e2392b"/>
<path d="M103.50,677.85 L105.90,682.28 L101.10,682.28 z" fill="#e2392b"/>
<path d="M110.40,676.18 L112.80,680.62 L108.00,680.62 z" fill="#e2392b"/>
<path d="M117.10,676.52 L119.50,680.96 L114.70,680.96 z" fill="#e2392b"/>
<path d="M137.50,671.86 L139.90,676.30 L135.10,676.30 z" fill="#e2392b"/>
<path d="M158.00,670.53 L160.40,674.97 L155.60,674.97 z" fill="#e2392b"/>
<path d="M178.70,671.20 L181.10,675.64 L176.30,675.64 z" fill="#e2392b"/>
<path d="M44.90,725.23 L51.20,726.56 L57.90,726.56 L64.50,714.60 L71.10,714.60 L77.40,714.60 L84.20,703.30 L90.80,704.63 L97.20,697.98 L103.50,686.68 L110.40,688.01 L117.10,686.68 L137.50,684.69 L158.00,683.36 L178.70,683.36" fill="none" stroke="#000" stroke-width="0.8" stroke-dasharray="1.2,1.0"/>
<path d="M44.90,723.90 L44.90,726.56 M43.60,723.90 L46.20,723.90 M43.60,726.56 L46.20,726.56" stroke="#000" stroke-width="0.6" fill="none"/>
<path d="M51.20,725.23 L51.20,727.89 M49.90,725.23 L52.50,725.23 M49.90,727.89 L52.50,727.89" stroke="#000" stroke-width="0.6" fill="none"/>
<path d="M57.90,725.23 L57.90,727.89 M56.60,725.23 L59.20,725.23 M56.60,727.89 L59.20,727.89" stroke="#000" stroke-width="0.6" fill="none"/>
<path d="M64.50,713.27 L64.50,715.92 M63.20,713.27 L65.80,713.27 M63.20,715.92 L65.80,715.92" stroke="#000" stroke-width="0.6" fill="none"/>
<path d="M71.10,713.27 L71.10,715.92 M69.80,713.27 L72.40,713.27 M69.80,715.92 L72.40,715.92" stroke="#000" stroke-width="0.6" fill="none"/>
<path d="M77.40,713.27 L77.40,715.92 M76.10,713.27 L78.70,713.27 M76.10,715.92 L78.70,715.92" stroke="#000" stroke-width="0.6" fill="none"/>
<path d="M84.20,701.97 L84.20,704.63 M82.90,701.97 L85.50,701.97 M82.90,704.63 L85.50,704.63" stroke="#000" stroke-width="0.6" fill="none"/>
<path d="M90.80,703.30 L90.80,705.95 M89.50,703.30 L92.10,703.30 M89.50,705.95 L92.10,705.95" stroke="#000" stroke-width="0.6" fill="none"/>
<path d="M97.20,696.65 L97.20,699.31 M95.90,696.65 L98.50,696.65 M95.90,699.31 L98.50,699.31" stroke="#000" stroke-width="0.6" fill="none"/>
<path d="M103.50,684.69 L103.50,688.67 M102.20,684.69 L104.80,684.69 M102.20,688.67 L104.80,688.67" stroke="#000" stroke-width="0.6" fill="none"/>
<path d="M110.40,686.01 L110.40,690.00 M109.10,686.01 L111.70,686.01 M109.10,690.00 L111.70,690.00" stroke="#000" stroke-width="0.6" fill="none"/>
<path d="M117.10,684.69 L117.10,688.67 M115.80,684.69 L118.40,684.69 M115.80,688.67 L118.40,688.67" stroke="#000" stroke-width="0.6" fill="none"/>
<path d="M137.50,682.03 L137.50,687.34 M136.20,682.03 L138.80,682.03 M136.20,687.34 L138.80,687.34" stroke="#000" stroke-width="0.6" fill="none"/>
<path d="M158.00,680.70 L158.00,686.01 M156.70,680.70 L159.30,680.70 M156.70,686.01 L159.30,686.01" stroke="#000" stroke-width="0.6" fill="none"/>
<path d="M178.70,680.70 L178.70,686.01 M177.40,680.70 L180.00,680.70 M177.40,686.01 L180.00,686.01" stroke="#000" stroke-width="0.6" fill="none"/>
<path d="M44.90,723.43 L46.70,725.23 L44.90,727.03 L43.10,725.23 z" fill="#fff" stroke="#000" stroke-width="0.7"/>
<path d="M51.20,724.76 L53.00,726.56 L51.20,728.36 L49.40,726.56 z" fill="#fff" stroke="#000" stroke-width="0.7"/>
<path d="M57.90,724.76 L59.70,726.56 L57.90,728.36 L56.10,726.56 z" fill="#fff" stroke="#000" stroke-width="0.7"/>
<path d="M64.50,712.80 L66.30,714.60 L64.50,716.40 L62.70,714.60 z" fill="#fff" stroke="#000" stroke-width="0.7"/>
<path d="M71.10,712.80 L72.90,714.60 L71.10,716.40 L69.30,714.60 z" fill="#fff" stroke="#000" stroke-width="0.7"/>
<path d="M77.40,712.80 L79.20,714.60 L77.40,716.40 L75.60,714.60 z" fill="#fff" stroke="#000" stroke-width="0.7"/>
<path d="M84.20,701.50 L86.00,703.30 L84.20,705.10 L82.40,703.30 z" fill="#fff" stroke="#000" stroke-width="0.7"/>
<path d="M90.80,702.83 L92.60,704.63 L90.80,706.43 L89.00,704.63 z" fill="#fff" stroke="#000" stroke-width="0.7"/>
<path d="M97.20,696.18 L99.00,697.98 L97.20,699.78 L95.40,697.98 z" fill="#fff" stroke="#000" stroke-width="0.7"/>
<path d="M103.50,684.88 L105.30,686.68 L103.50,688.48 L101.70,686.68 z" fill="#fff" stroke="#000" stroke-width="0.7"/>
<path d="M110.40,686.21 L112.20,688.01 L110.40,689.81 L108.60,688.01 z" fill="#fff" stroke="#000" stroke-width="0.7"/>
<path d="M117.10,684.88 L118.90,686.68 L117.10,688.48 L115.30,686.68 z" fill="#fff" stroke="#000" stroke-width="0.7"/>
<path d="M137.50,682.89 L139.30,684.69 L137.50,686.49 L135.70,684.69 z" fill="#fff" stroke="#000" stroke-width="0.7"/>
<path d="M158.00,681.56 L159.80,683.36 L158.00,685.16 L156.20,683.36 z" fill="#fff" stroke="#000" stroke-width="0.7"/>
<path d="M178.70,681.56 L180.50,683.36 L178.70,685.16 L176.90,683.36 z" fill="#fff" stroke="#000" stroke-width="0.7"/>
<path d="M44.90,725.63 L51.20,726.56 L57.90,726.56 L64.50,714.93 L71.10,714.93 L77.40,715.92 L84.20,702.63 L90.80,705.95 L97.20,698.31 L103.50,686.68 L110.40,689.01 L117.10,687.34 L137.50,685.35 L158.00,683.69 L178.70,684.02" fill="none" stroke="#000" stroke-width="0.8"/>
<path d="M44.90,724.30 L44.90,726.96 M43.60,724.30 L46.20,724.30 M43.60,726.96 L46.20,726.96" stroke="#000" stroke-width="0.6" fill="none"/>
<path d="M51.20,725.23 L51.20,727.89 M49.90,725.23 L52.50,725.23 M49.90,727.89 L52.50,727.89" stroke="#000" stroke-width="0.6" fill="none"/>
<path d="M57.90,725.23 L57.90,727.89 M56.60,725.23 L59.20,725.23 M56.60,727.89 L59.20,727.89" stroke="#000" stroke-width="0.6" fill="none"/>
<path d="M64.50,713.60 L64.50,716.26 M63.20,713.60 L65.80,713.60 M63.20,716.26 L65.80,716.26" stroke="#000" stroke-width="0.6" fill="none"/>
<path d="M71.10,713.60 L71.10,716.26 M69.80,713.60 L72.40,713.60 M69.80,716.26 L72.40,716.26" stroke="#000" stroke-width="0.6" fill="none"/>
<path d="M77.40,714.60 L77.40,717.25 M76.10,714.60 L78.70,714.60 M76.10,717.25 L78.70,717.25" stroke="#000" stroke-width="0.6" fill="none"/>
<path d="M84.20,701.30 L84.20,703.96 M82.90,701.30 L85.50,701.30 M82.90,703.96 L85.50,703.96" stroke="#000" stroke-width="0.6" fill="none"/>
<path d="M90.80,704.63 L90.80,707.28 M89.50,704.63 L92.10,704.63 M89.50,707.28 L92.10,707.28" stroke="#000" stroke-width="0.6" fill="none"/>
<path d="M97.20,696.98 L97.20,699.64 M95.90,696.98 L98.50,696.98 M95.90,699.64 L98.50,699.64" stroke="#000" stroke-width="0.6" fill="none"/>
<path d="M103.50,684.69 L103.50,688.67 M102.20,684.69 L104.80,684.69 M102.20,688.67 L104.80,688.67" stroke="#000" stroke-width="0.6" fill="none"/>
<path d="M110.40,687.01 L110.40,691.00 M109.10,687.01 L111.70,687.01 M109.10,691.00 L111.70,691.00" stroke="#000" stroke-width="0.6" fill="none"/>
<path d="M117.10,685.35 L117.10,689.34 M115.80,685.35 L118.40,685.35 M115.80,689.34 L118.40,689.34" stroke="#000" stroke-width="0.6" fill="none"/>
<path d="M137.50,682.69 L137.50,688.01 M136.20,682.69 L138.80,682.69 M136.20,688.01 L138.80,688.01" stroke="#000" stroke-width="0.6" fill="none"/>
<path d="M158.00,681.03 L158.00,686.35 M156.70,681.03 L159.30,681.03 M156.70,686.35 L159.30,686.35" stroke="#000" stroke-width="0.6" fill="none"/>
<path d="M178.70,681.36 L178.70,686.68 M177.40,681.36 L180.00,681.36 M177.40,686.68 L180.00,686.68" stroke="#000" stroke-width="0.6" fill="none"/>
<path d="M44.90,723.11 L47.30,727.55 L42.50,727.55 z" fill="#000"/>
<path d="M51.20,724.04 L53.60,728.48 L48.80,728.48 z" fill="#000"/>
<path d="M57.90,724.04 L60.30,728.48 L55.50,728.48 z" fill="#000"/>
<path d="M64.50,712.41 L66.90,716.85 L62.10,716.85 z" fill="#000"/>
<path d="M71.10,712.41 L73.50,716.85 L68.70,716.85 z" fill="#000"/>
<path d="M77.40,713.40 L79.80,717.84 L75.00,717.84 z" fill="#000"/>
<path d="M84.20,700.11 L86.60,704.55 L81.80,704.55 z" fill="#000"/>
<path d="M90.80,703.43 L93.20,707.87 L88.40,707.87 z" fill="#000"/>
<path d="M97.20,695.79 L99.60,700.23 L94.80,700.23 z" fill="#000"/>
<path d="M103.50,684.16 L105.90,688.60 L101.10,688.60 z" fill="#000"/>
<path d="M110.40,686.49 L112.80,690.93 L108.00,690.93 z" fill="#000"/>
<path d="M117.10,684.82 L119.50,689.26 L114.70,689.26 z" fill="#000"/>
<path d="M137.50,682.83 L139.90,687.27 L135.10,687.27 z" fill="#000"/>
<path d="M158.00,681.17 L160.40,685.61 L155.60,685.61 z" fill="#000"/>
<path d="M178.70,681.50 L181.10,685.94 L176.30,685.94 z" fill="#000"/>
<line x1="43.20" y1="635.50" x2="43.20" y2="735.80" stroke="#000" stroke-width="1.1"/>
<line x1="42.70" y1="735.20" x2="193.60" y2="735.20" stroke="#000" stroke-width="1.1"/>
<line x1="39.70" y1="735.20" x2="43.20" y2="735.20" stroke="#000" stroke-width="1.0"/>
<text x="36.60" y="737.80" font-size="7.2" font-weight="bold" text-anchor="end" fill="#000" stroke="#000" stroke-width="0.15">0</text>
<line x1="39.70" y1="701.97" x2="43.20" y2="701.97" stroke="#000" stroke-width="1.0"/>
<text x="36.60" y="704.57" font-size="7.2" font-weight="bold" text-anchor="end" fill="#000" stroke="#000" stroke-width="0.15">50</text>
<line x1="39.70" y1="668.73" x2="43.20" y2="668.73" stroke="#000" stroke-width="1.0"/>
<text x="36.60" y="671.33" font-size="7.2" font-weight="bold" text-anchor="end" fill="#000" stroke="#000" stroke-width="0.15">100</text>
<line x1="39.70" y1="635.50" x2="43.20" y2="635.50" stroke="#000" stroke-width="1.0"/>
<text x="36.60" y="638.10" font-size="7.2" font-weight="bold" text-anchor="end" fill="#000" stroke="#000" stroke-width="0.15">150</text>
<line x1="43.20" y1="735.20" x2="43.20" y2="738.70" stroke="#000" stroke-width="1.0"/>
<text x="43.20" y="747.20" font-size="7.6" font-weight="bold" text-anchor="middle" fill="#000">0</text>
<line x1="93.23" y1="735.20" x2="93.23" y2="738.70" stroke="#000" stroke-width="1.0"/>
<text x="93.23" y="747.20" font-size="7.6" font-weight="bold" text-anchor="middle" fill="#000">50</text>
<line x1="143.27" y1="735.20" x2="143.27" y2="738.70" stroke="#000" stroke-width="1.0"/>
<text x="143.27" y="747.20" font-size="7.6" font-weight="bold" text-anchor="middle" fill="#000">100</text>
<line x1="193.30" y1="735.20" x2="193.30" y2="738.70" stroke="#000" stroke-width="1.0"/>
<text x="193.30" y="747.20" font-size="7.6" font-weight="bold" text-anchor="middle" fill="#000">150</text>
<text x="118.20" y="761.50" font-size="8.4" font-weight="bold" text-anchor="middle" fill="#000">Time (min)</text>
<text x="13.95" y="685.35" font-size="8.2" font-weight="bold" text-anchor="middle" fill="#000" transform="rotate(-90 13.95 685.35)">ECAR (mpH/min)</text>
<path d="M314.60,547.70 L321.36,549.90 L325.54,555.65 L325.54,562.75 L321.36,568.50 L314.60,570.70 L307.84,568.50 L303.66,562.75 L303.66,555.65 L307.84,549.90 z" fill="none" stroke="#555" stroke-width="0.65"/>
<path d="M314.60,536.20 L328.12,540.59 L336.47,552.09 L336.47,566.31 L328.12,577.81 L314.60,582.20 L301.08,577.81 L292.73,566.31 L292.73,552.09 L301.08,540.59 z" fill="none" stroke="#555" stroke-width="0.65"/>
<path d="M314.60,524.70 L334.88,531.29 L347.41,548.54 L347.41,569.86 L334.88,587.11 L314.60,593.70 L294.32,587.11 L281.79,569.86 L281.79,548.54 L294.32,531.29 z" fill="none" stroke="#555" stroke-width="0.65"/>
<path d="M314.60,513.20 L341.64,521.99 L358.35,544.99 L358.35,573.41 L341.64,596.41 L314.60,605.20 L287.56,596.41 L270.85,573.41 L270.85,544.99 L287.56,521.99 z" fill="none" stroke="#555" stroke-width="0.65"/>
<path d="M314.60,501.70 L348.40,512.68 L369.29,541.43 L369.29,576.97 L348.40,605.72 L314.60,616.70 L280.80,605.72 L259.91,576.97 L259.91,541.43 L280.80,512.68 z" fill="none" stroke="#555" stroke-width="0.65"/>
<path d="M314.60,536.89 L328.80,539.66 L338.22,551.52 L337.13,566.52 L328.39,578.18 L314.60,582.20 L301.08,577.81 L291.63,566.66 L290.76,551.45 L300.40,539.66 z" fill="none" stroke="#000" stroke-width="1.3" stroke-linejoin="miter"/>
<path d="M314.60,536.20 L329.20,539.10 L337.57,551.74 L337.57,566.66 L328.12,577.81 L314.60,582.66 L300.40,578.74 L291.19,566.80 L290.54,551.38 L299.73,538.73 z" fill="none" stroke="#000" stroke-width="1.3" stroke-dasharray="2,1.2" stroke-linejoin="miter"/>
<path d="M314.60,539.42 L325.42,544.31 L333.85,552.95 L332.10,564.89 L318.66,564.78 L314.60,560.12 L299.73,579.67 L259.91,576.97 L273.04,545.70 L293.65,530.36 z" fill="none" stroke="#e2392b" stroke-width="1.2" stroke-dasharray="3,1.5" stroke-linejoin="miter"/>
<path d="M314.60,540.11 L325.01,544.87 L332.54,553.37 L331.22,564.60 L318.25,564.22 L314.60,559.43 L299.86,579.48 L262.76,576.04 L273.70,545.91 L293.65,530.36 z" fill="none" stroke="#e2392b" stroke-width="1.3" stroke-linejoin="miter"/>
<circle cx="314.60" cy="536.89" r="1.1" fill="#000"/>
<circle cx="328.80" cy="539.66" r="1.1" fill="#000"/>
<circle cx="338.22" cy="551.52" r="1.1" fill="#000"/>
<circle cx="337.13" cy="566.52" r="1.1" fill="#000"/>
<circle cx="328.39" cy="578.18" r="1.1" fill="#000"/>
<circle cx="314.60" cy="582.20" r="1.1" fill="#000"/>
<circle cx="301.08" cy="577.81" r="1.1" fill="#000"/>
<circle cx="291.63" cy="566.66" r="1.1" fill="#000"/>
<circle cx="290.76" cy="551.45" r="1.1" fill="#000"/>
<circle cx="300.40" cy="539.66" r="1.1" fill="#000"/>
<text x="314.60" y="547.40" font-size="7.3" text-anchor="middle" fill="#222" stroke="#222" stroke-width="0.12">0.5</text>
<text x="314.60" y="535.90" font-size="7.3" text-anchor="middle" fill="#222" stroke="#222" stroke-width="0.12">1.0</text>
<text x="314.60" y="524.40" font-size="7.3" text-anchor="middle" fill="#222" stroke="#222" stroke-width="0.12">1.5</text>
<text x="314.60" y="512.90" font-size="7.3" text-anchor="middle" fill="#222" stroke="#222" stroke-width="0.12">2.0</text>
<text x="314.60" y="501.40" font-size="7.3" text-anchor="middle" fill="#222" stroke="#222" stroke-width="0.12">2.5</text>
<text x="312.80" y="484.20" font-size="6.95" text-anchor="middle" fill="#111" stroke="#111" stroke-width="0.12">Non-mitochondrial</text>
<text x="312.80" y="492.30" font-size="6.95" text-anchor="middle" fill="#111" stroke="#111" stroke-width="0.12">respiration</text>
<text x="377.00" y="510.90" font-size="6.95" text-anchor="middle" fill="#111" stroke="#111" stroke-width="0.12">Basal respiration</text>
<text x="392.00" y="542.40" font-size="6.95" text-anchor="middle" fill="#111" stroke="#111" stroke-width="0.12">Proton leak</text>
<text x="398.00" y="581.60" font-size="6.95" text-anchor="middle" fill="#111" stroke="#111" stroke-width="0.12">ATP production</text>
<text x="367.50" y="607.90" font-size="6.95" text-anchor="middle" fill="#111" stroke="#111" stroke-width="0.12">Maximal</text>
<text x="367.50" y="616.70" font-size="6.95" text-anchor="middle" fill="#111" stroke="#111" stroke-width="0.12">respiration</text>
<text x="312.10" y="628.90" font-size="6.95" text-anchor="middle" fill="#111" stroke="#111" stroke-width="0.12">Spare respiratory</text>
<text x="312.10" y="637.70" font-size="6.95" text-anchor="middle" fill="#111" stroke="#111" stroke-width="0.12">capacity</text>
<text x="253.30" y="607.90" font-size="6.95" text-anchor="middle" fill="#111" stroke="#111" stroke-width="0.12">Non-glycolytic</text>
<text x="253.30" y="616.70" font-size="6.95" text-anchor="middle" fill="#111" stroke="#111" stroke-width="0.12">acidification</text>
<text x="236.80" y="581.60" font-size="6.95" text-anchor="middle" fill="#111" stroke="#111" stroke-width="0.12">Glycolysis</text>
<text x="237.80" y="538.50" font-size="6.95" text-anchor="middle" fill="#111" stroke="#111" stroke-width="0.12">Glycolytic</text>
<text x="237.70" y="546.90" font-size="6.95" text-anchor="middle" fill="#111" stroke="#111" stroke-width="0.12">capacity</text>
<text x="246.40" y="511.10" font-size="6.95" text-anchor="middle" fill="#111" stroke="#111" stroke-width="0.12">Glycolytic reserve</text>
<line x1="240.9" y1="666.3" x2="251.1" y2="666.3" stroke="#000" stroke-width="0.8"/>
<path d="M246.00,664.41 L247.80,667.74 L244.20,667.74 z" fill="#000"/>
<text x="256" y="669.40" font-size="8.5" fill="#111" stroke="#111" stroke-width="0.1">Ctrl&#160; N</text>
<line x1="240.9" y1="679.4" x2="251.1" y2="679.4" stroke="#e2392b" stroke-width="0.8"/>
<path d="M246.00,677.51 L247.80,680.84 L244.20,680.84 z" fill="#e2392b"/>
<text x="256" y="682.50" font-size="8.5" fill="#111" stroke="#111" stroke-width="0.1">Ctrl&#160; LPS</text>
<line x1="240.9" y1="693.1" x2="251.1" y2="693.1" stroke="#000" stroke-width="0.8" stroke-dasharray="1,1"/>
<path d="M246.00,691.40 L247.70,693.10 L246.00,694.80 L244.30,693.10 z" fill="#fff" stroke="#000" stroke-width="0.7"/>
<text x="256" y="696.20" font-size="8.5" fill="#111" stroke="#111" stroke-width="0.1">Acly<tspan font-size="6.6" dy="-3.4">M-KO</tspan><tspan dy="3.4" font-size="8.5"> N</tspan></text>
<line x1="240.9" y1="706.6" x2="251.1" y2="706.6" stroke="#e2392b" stroke-width="0.8" stroke-dasharray="2,1"/>
<path d="M246.00,704.90 L247.70,706.60 L246.00,708.30 L244.30,706.60 z" fill="#fff" stroke="#e2392b" stroke-width="0.7"/>
<text x="256" y="709.70" font-size="8.5" fill="#111" stroke="#111" stroke-width="0.1">Acly<tspan font-size="6.6" dy="-3.4">M-KO</tspan><tspan dy="3.4" font-size="8.5"> LPS</tspan></text>
<text x="512.60" y="482.10" font-size="9.7" font-weight="bold" text-anchor="middle" fill="#000">ATP production rate</text>
<rect x="484" y="521.44" width="10.00" height="64.21" fill="#fff" stroke="#000" stroke-width="0.9"/>
<rect x="484" y="585.66" width="10.00" height="9.14" fill="#6e6e6e" stroke="#000" stroke-width="0.9"/>
<rect x="498.9" y="516.57" width="10.00" height="68.29" fill="#fff" stroke="#000" stroke-width="0.9"/>
<rect x="498.9" y="584.86" width="10.00" height="9.94" fill="#6e6e6e" stroke="#000" stroke-width="0.9"/>
<rect x="513.8" y="514.68" width="10.00" height="50.69" fill="#fff" stroke="#e2392b" stroke-width="0.9"/>
<rect x="513.8" y="565.38" width="10.00" height="29.42" fill="#6e6e6e" stroke="#e2392b" stroke-width="0.9"/>
<rect x="528.3" y="520.25" width="9.70" height="43.93" fill="#fff" stroke="#e2392b" stroke-width="0.9"/>
<rect x="528.3" y="564.18" width="9.70" height="30.62" fill="#6e6e6e" stroke="#e2392b" stroke-width="0.9"/>
<line x1="477.70" y1="495.40" x2="477.70" y2="595.30" stroke="#000" stroke-width="1.0"/>
<line x1="477.20" y1="594.80" x2="541.70" y2="594.80" stroke="#000" stroke-width="1.0"/>
<line x1="474.40" y1="594.80" x2="477.70" y2="594.80" stroke="#000" stroke-width="0.9"/>
<text x="471.20" y="597.40" font-size="7.3" font-weight="bold" text-anchor="end" fill="#000" stroke="#000" stroke-width="0.15">0</text>
<line x1="474.40" y1="545.10" x2="477.70" y2="545.10" stroke="#000" stroke-width="0.9"/>
<text x="471.20" y="547.70" font-size="7.3" font-weight="bold" text-anchor="end" fill="#000" stroke="#000" stroke-width="0.15">500</text>
<line x1="474.40" y1="495.40" x2="477.70" y2="495.40" stroke="#000" stroke-width="0.9"/>
<text x="471.20" y="498.00" font-size="7.3" font-weight="bold" text-anchor="end" fill="#000" stroke="#000" stroke-width="0.15">1000</text>
<line x1="489.00" y1="594.80" x2="489.00" y2="597.30" stroke="#000" stroke-width="0.8"/>
<text x="489.00" y="606.50" font-size="5.6" text-anchor="middle" fill="#222" stroke="#222" stroke-width="0.12">Ctrl</text>
<line x1="503.90" y1="594.80" x2="503.90" y2="597.30" stroke="#000" stroke-width="0.8"/>
<text x="503.90" y="606.50" font-size="5.6" text-anchor="middle" fill="#222" stroke="#222" stroke-width="0.12">M-KO</text>
<line x1="518.80" y1="594.80" x2="518.80" y2="597.30" stroke="#000" stroke-width="0.8"/>
<text x="518.80" y="606.50" font-size="5.6" text-anchor="middle" fill="#222" stroke="#222" stroke-width="0.12">Ctrl</text>
<line x1="533.10" y1="594.80" x2="533.10" y2="597.30" stroke="#000" stroke-width="0.8"/>
<text x="533.10" y="606.50" font-size="5.6" text-anchor="middle" fill="#222" stroke="#222" stroke-width="0.12">M-KO</text>
<line x1="513.00" y1="608.20" x2="538.00" y2="608.20" stroke="#222" stroke-width="0.8"/>
<text x="527.50" y="617.30" font-size="8" text-anchor="middle" fill="#222" stroke="#222" stroke-width="0.12">+LPS</text>
<text x="444.82" y="545.00" font-size="8.1" font-weight="bold" text-anchor="middle" fill="#000" transform="rotate(-90 444.82 545.00)">ATP production (pmol ATP/min)</text>
<rect x="565" y="545.6" width="9.5" height="6" fill="#fff" stroke="#000" stroke-width="0.8"/>
<rect x="565" y="558.3" width="9.5" height="6" fill="#6e6e6e" stroke="#000" stroke-width="0.8"/>
<text x="578.20" y="551.60" font-size="8.8" text-anchor="start" fill="#111" stroke="#111" stroke-width="0.12">Mito ATP</text>
<text x="578.20" y="564.30" font-size="8.8" text-anchor="start" fill="#111" stroke="#111" stroke-width="0.12">Glyco ATP</text>
<line x1="477.30" y1="623.30" x2="477.30" y2="723.80" stroke="#000" stroke-width="1.0"/>
<line x1="476.80" y1="723.30" x2="577.70" y2="723.30" stroke="#000" stroke-width="1.0"/>
<line x1="474.00" y1="723.30" x2="477.30" y2="723.30" stroke="#000" stroke-width="0.9"/>
<text x="472.30" y="725.90" font-size="7.2" font-weight="bold" text-anchor="end" fill="#000">0</text>
<line x1="474.00" y1="703.30" x2="477.30" y2="703.30" stroke="#000" stroke-width="0.9"/>
<text x="472.30" y="705.90" font-size="7.2" font-weight="bold" text-anchor="end" fill="#000">10</text>
<line x1="474.00" y1="683.30" x2="477.30" y2="683.30" stroke="#000" stroke-width="0.9"/>
<text x="472.30" y="685.90" font-size="7.2" font-weight="bold" text-anchor="end" fill="#000">20</text>
<line x1="474.00" y1="663.30" x2="477.30" y2="663.30" stroke="#000" stroke-width="0.9"/>
<text x="472.30" y="665.90" font-size="7.2" font-weight="bold" text-anchor="end" fill="#000">30</text>
<line x1="474.00" y1="643.30" x2="477.30" y2="643.30" stroke="#000" stroke-width="0.9"/>
<text x="472.30" y="645.90" font-size="7.2" font-weight="bold" text-anchor="end" fill="#000">40</text>
<line x1="474.00" y1="623.30" x2="477.30" y2="623.30" stroke="#000" stroke-width="0.9"/>
<text x="472.30" y="625.90" font-size="7.2" font-weight="bold" text-anchor="end" fill="#000">50</text>
<line x1="477.30" y1="723.30" x2="477.30" y2="726.60" stroke="#000" stroke-width="0.9"/>
<text x="477.30" y="736.20" font-size="7.4" font-weight="bold" text-anchor="middle" fill="#000">0</text>
<line x1="502.40" y1="723.30" x2="502.40" y2="726.60" stroke="#000" stroke-width="0.9"/>
<text x="502.40" y="736.20" font-size="7.4" font-weight="bold" text-anchor="middle" fill="#000">50</text>
<line x1="527.50" y1="723.30" x2="527.50" y2="726.60" stroke="#000" stroke-width="0.9"/>
<text x="527.50" y="736.20" font-size="7.4" font-weight="bold" text-anchor="middle" fill="#000">100</text>
<line x1="552.60" y1="723.30" x2="552.60" y2="726.60" stroke="#000" stroke-width="0.9"/>
<text x="552.60" y="736.20" font-size="7.4" font-weight="bold" text-anchor="middle" fill="#000">150</text>
<line x1="577.70" y1="723.30" x2="577.70" y2="726.60" stroke="#000" stroke-width="0.9"/>
<text x="577.70" y="736.20" font-size="7.4" font-weight="bold" text-anchor="middle" fill="#000">200</text>
<text x="527.70" y="749.90" font-size="8.3" font-weight="bold" text-anchor="middle" fill="#000">Basal respiration (OCR)</text>
<text x="454.42" y="673.80" font-size="8.1" font-weight="bold" text-anchor="middle" fill="#000" transform="rotate(-90 454.42 673.80)">Glycolysis (ECAR)</text>
<path d="M521.48,642.30 L547.58,642.30 M521.48,640.80 L521.48,643.80 M547.58,640.80 L547.58,643.80" stroke="#e2392b" stroke-width="0.8" fill="none"/>
<path d="M534.53,647.30 L534.53,637.30 M533.03,647.30 L536.03,647.30 M533.03,637.30 L536.03,637.30" stroke="#e2392b" stroke-width="0.8" fill="none"/>
<path d="M535.03,649.30 L550.09,649.30 M535.03,647.80 L535.03,650.80 M550.09,647.80 L550.09,650.80" stroke="#e2392b" stroke-width="0.8" fill="none"/>
<path d="M542.56,655.30 L542.56,643.30 M541.06,655.30 L544.06,655.30 M541.06,643.30 L544.06,643.30" stroke="#e2392b" stroke-width="0.8" fill="none"/>
<path d="M534.53,640.10 L536.73,642.30 L534.53,644.50 L532.33,642.30 z" fill="#fff" stroke="#e2392b" stroke-width="0.7"/>
<path d="M542.56,646.15 L545.56,651.70 L539.56,651.70 z" fill="#e2392b"/>
<path d="M551.60,691.30 L571.68,691.30 M551.60,689.80 L551.60,692.80 M571.68,689.80 L571.68,692.80" stroke="#000" stroke-width="0.8" fill="none"/>
<path d="M562.64,693.30 L562.64,688.30 M561.14,693.30 L564.14,693.30 M561.14,688.30 L564.14,688.30" stroke="#000" stroke-width="0.8" fill="none"/>
<path d="M564.15,688.30 L566.15,690.30 L564.15,692.30 L562.15,690.30 z" fill="#fff" stroke="#000" stroke-width="0.7"/>
<path d="M561.64,688.15 L564.64,693.70 L558.64,693.70 z" fill="#000"/>
<circle cx="561.89" cy="691.30" r="1.8" fill="#000"/>
</svg></body></html>
